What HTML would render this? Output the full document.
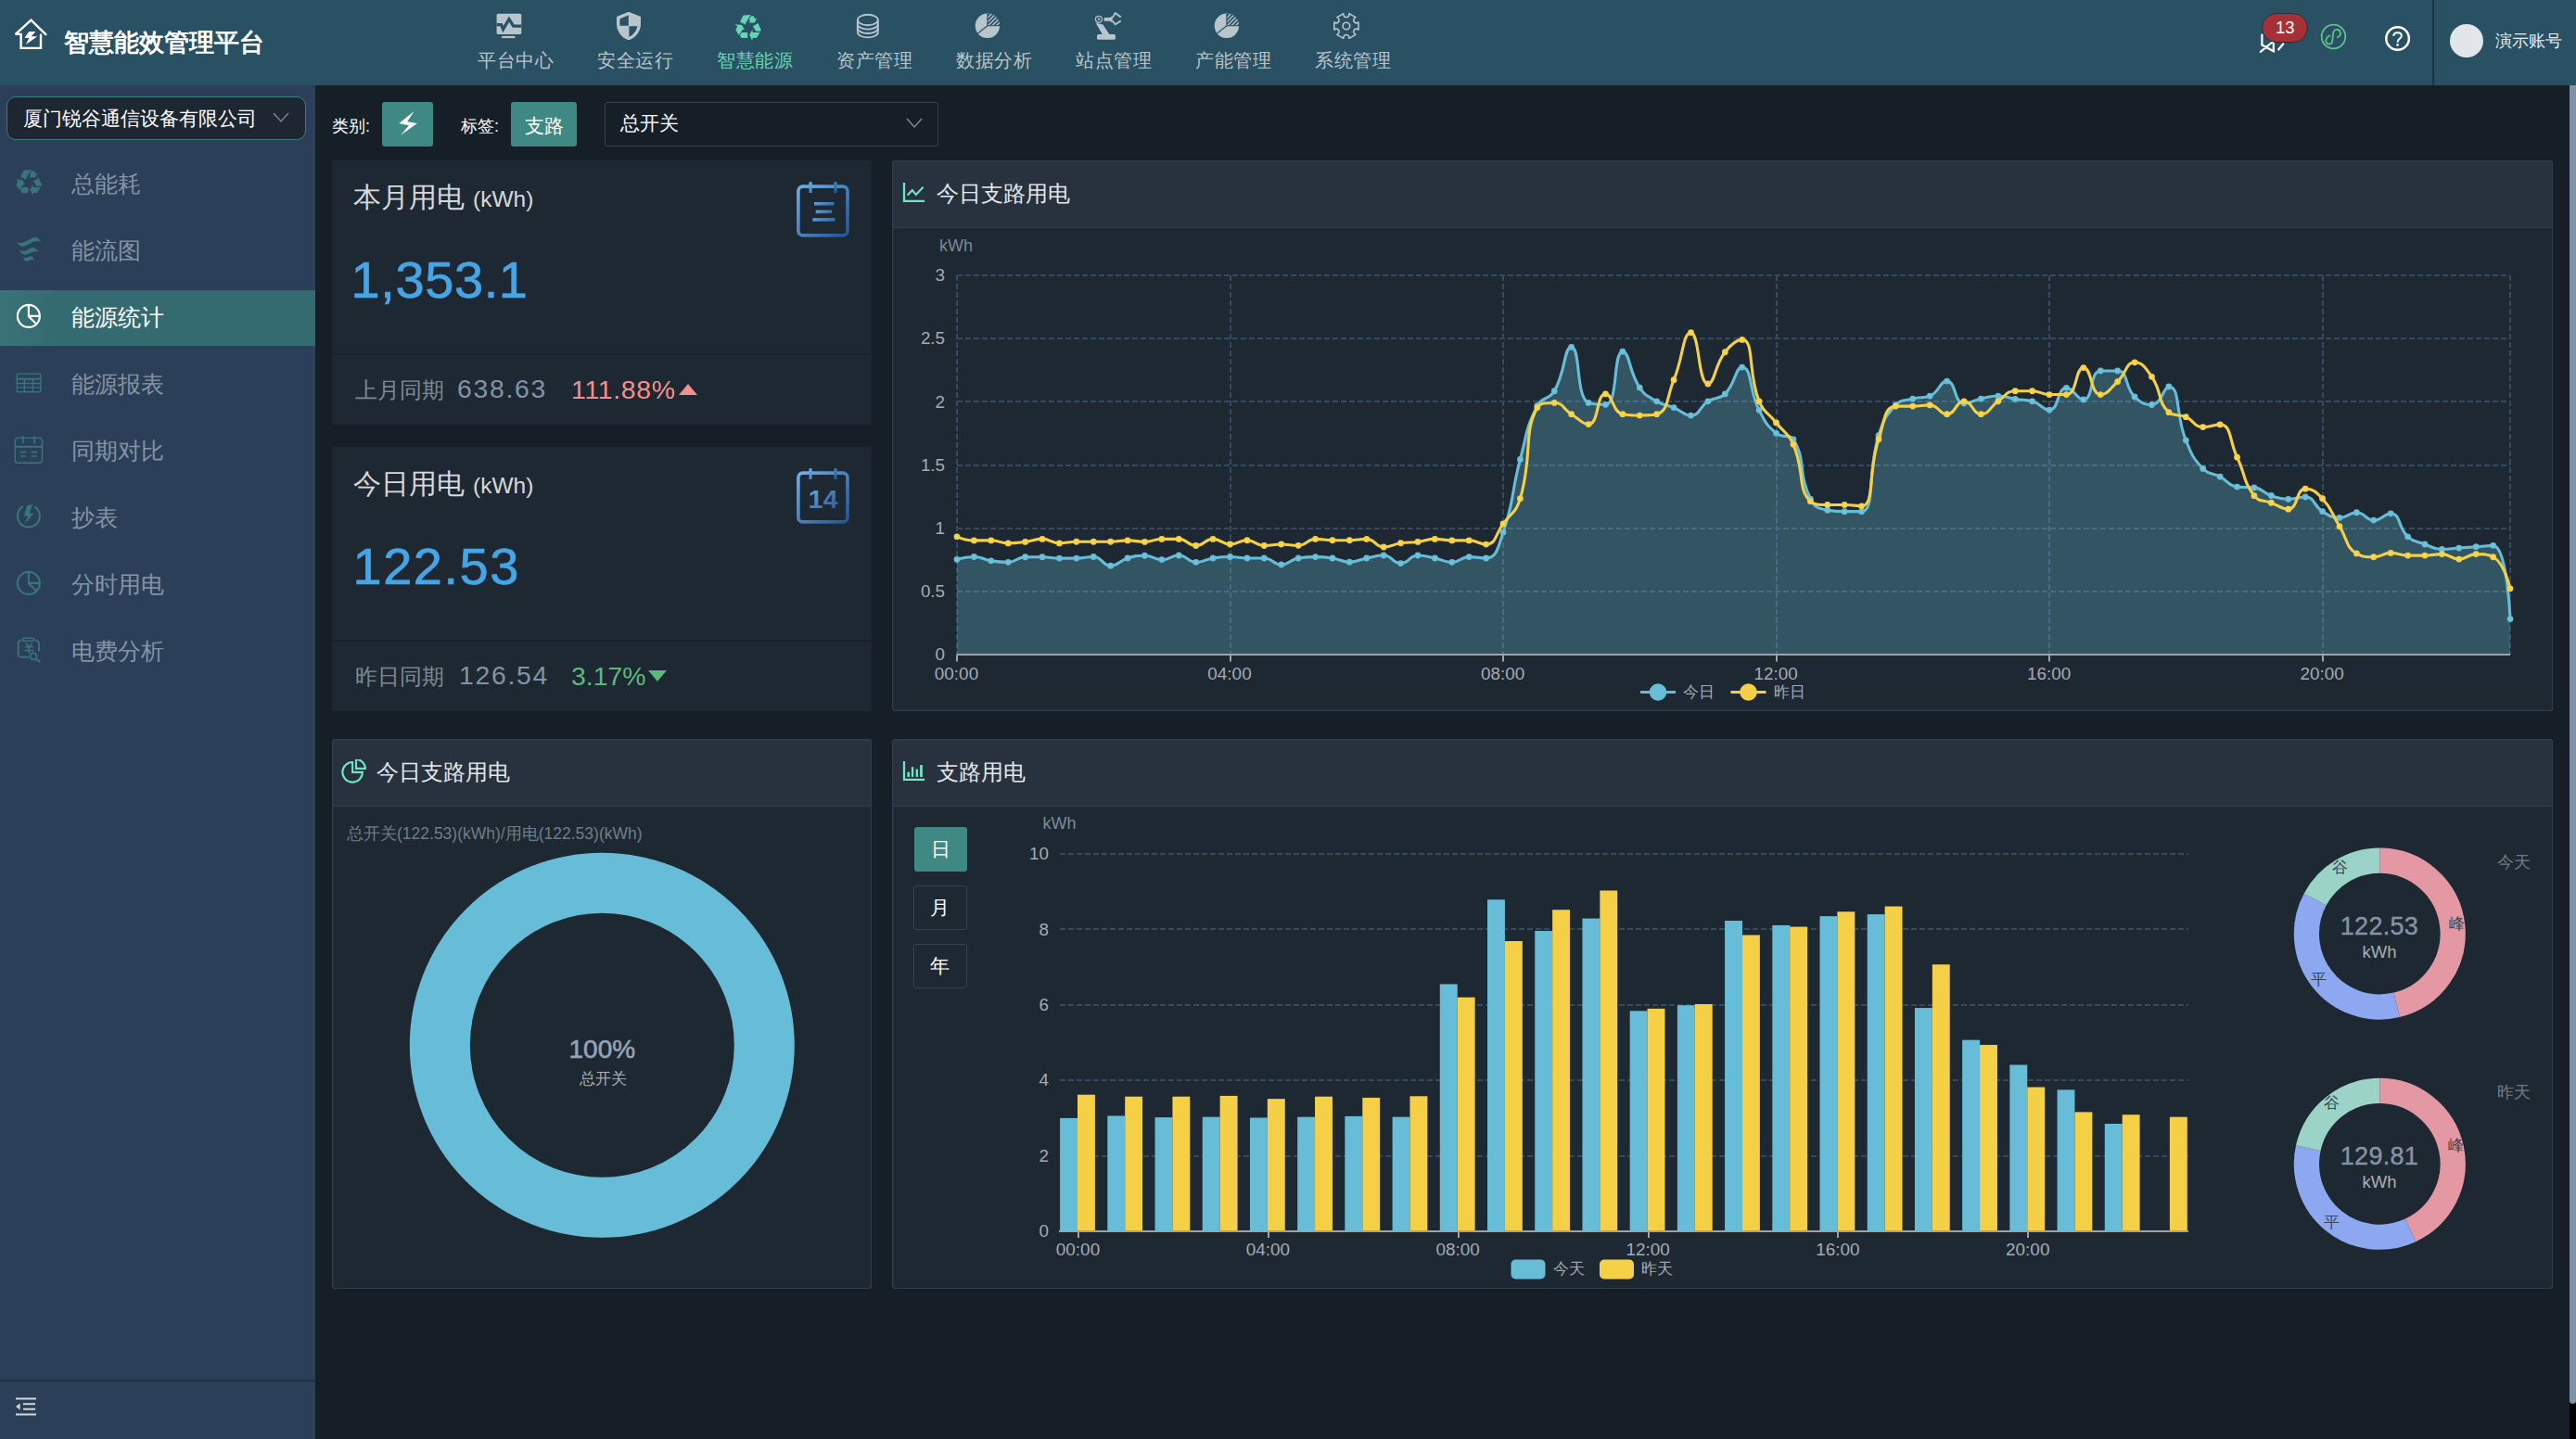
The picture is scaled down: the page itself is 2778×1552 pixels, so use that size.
<!DOCTYPE html>
<html lang="zh"><head><meta charset="utf-8"><title>智慧能效管理平台</title>
<style>
html,body{margin:0;padding:0;background:#161e28;}
body{width:2778px;height:1552px;position:relative;overflow:hidden;font-family:"Liberation Sans",sans-serif;}
body>div,body>svg{position:absolute;}
.t{white-space:nowrap;}
</style></head><body>
<div style="left:0px;top:0px;width:2778px;height:92px;background:#2a5063;"></div>
<svg style="left:14px;top:18px;" width="40" height="38" viewBox="0 0 40 38"><path d="M35.4,19.2 L19.5,3.7 L2.75,18.85 L8.6,18.85 L8.6,33.9 L30,33.9 L30,19.8" fill="none" stroke="#fff" stroke-width="2.4" stroke-linecap="round" stroke-linejoin="miter" stroke-miterlimit="2.4"/><path d="M17.35,16.1 L24.35,16.1 L19.7,21.2 L26.3,21.2 L14,29.9 L17.35,23.1 L12.5,22.7 Z" fill="#fff" /></svg>
<div class="t" style="left:69px;top:26.5px;font-size:27px;line-height:38px;color:#ffffff;font-weight:700;">智慧能效管理平台</div>
<div class="t" style="left:556.3px;width:200px;margin-left:-100px;text-align:center;top:51.1px;font-size:20.4px;line-height:29px;color:#b8c5cd;font-weight:400;letter-spacing:0.6px;">平台中心</div>
<svg style="left:534px;top:13px;" width="30" height="30" viewBox="0 0 30 30"><rect x="1.6" y="1.7" width="26.7" height="22.3" rx="1.6" fill="#b8c5cd"/><rect x="7.2" y="25.9" width="14.2" height="2.2" fill="#b8c5cd"/><path d="M1.6,13.6 L6.5,13.6 L8.6,18.6 L15,7.6 L19.7,15.2 L28.3,15.2" fill="none" stroke="#2a5063" stroke-width="3.3" stroke-linejoin="miter"/></svg>
<div class="t" style="left:685.3px;width:200px;margin-left:-100px;text-align:center;top:51.1px;font-size:20.4px;line-height:29px;color:#b8c5cd;font-weight:400;letter-spacing:0.6px;">安全运行</div>
<svg style="left:663px;top:13px;" width="30" height="30" viewBox="0 0 30 30"><path fill-rule="evenodd" fill="#b8c5cd" d="M15,-0.3 L28,5 L28,13 C28,22 21,28.5 15,30.3 C9,28.5 2,22 2,13 L2,5 Z M5.4,7.5 L14.8,3.2 L14.8,14.8 L5.4,14.8 Z M15.4,15.3 L24.4,15.3 C23.5,20.5 19.5,25 15.4,26.9 Z"/></svg>
<div class="t" style="left:814.3px;width:200px;margin-left:-100px;text-align:center;top:51.1px;font-size:20.4px;line-height:29px;color:#63d6b4;font-weight:400;letter-spacing:0.6px;">智慧能源</div>
<svg style="left:792px;top:13px;" width="30" height="30" viewBox="0 0 30 30"><g transform="translate(0,0)"><path d="M6,10.4 L9.6,3.4 L17.75,3.1 L15.5,6.25 L11.5,13.6 Z" fill="#63d6b4" /><path d="M16,7.25 L17.75,4.5 L20.75,4.25 L22.5,7.5 L24.75,5.75 L21.75,11.5 L15,11.5 L16.75,10.4 Z" fill="#63d6b4" /><path d="M19.75,15.5 L25.5,11.9 L28.75,19 L28.25,20.75 L23.5,20.75 Z" fill="#63d6b4" /><path d="M16.25,24.75 L19.25,19 L19.75,21.9 L27.5,21.9 L24,27.75 L19.75,28 L19.5,31.25 Z" fill="#63d6b4" /><path d="M6,25.25 L7.75,22 L14.25,22 L14.25,28.1 L7.75,28.1 Z" fill="#63d6b4" /><path d="M0.1,13.4 L7.75,13.75 L11,19 L9,18.75 L4.75,25 L1.4,19.25 L3.25,15.25 Z" fill="#63d6b4" /></g></svg>
<div class="t" style="left:943.3px;width:200px;margin-left:-100px;text-align:center;top:51.1px;font-size:20.4px;line-height:29px;color:#b8c5cd;font-weight:400;letter-spacing:0.6px;">资产管理</div>
<svg style="left:921px;top:13px;" width="30" height="30" viewBox="0 0 30 30"><ellipse cx="14.85" cy="8.5" rx="11" ry="5.7" fill="none" stroke="#b8c5cd" stroke-width="1.9"/><path d="M3.85,8.5 L3.85,21.7 M25.85,8.5 L25.85,21.7" stroke="#b8c5cd" stroke-width="1.9" fill="none"/><path d="M3.85,12.9 A11,5.7 0 0 0 25.85,12.9" stroke="#b8c5cd" stroke-width="1.9" fill="none"/><path d="M3.85,17.3 A11,5.7 0 0 0 25.85,17.3" stroke="#b8c5cd" stroke-width="1.9" fill="none"/><path d="M3.85,21.7 A11,5.7 0 0 0 25.85,21.7" stroke="#b8c5cd" stroke-width="1.9" fill="none"/></svg>
<div class="t" style="left:1072.3px;width:200px;margin-left:-100px;text-align:center;top:51.1px;font-size:20.4px;line-height:29px;color:#b8c5cd;font-weight:400;letter-spacing:0.6px;">数据分析</div>
<svg style="left:1050px;top:13px;" width="30" height="30" viewBox="0 0 30 30"><defs><clipPath id="pq"><path d="M14.9,14.8 L14.9,1.6 A13.2,13.2 0 0 1 28.1,14.8 Z"/></clipPath></defs><circle cx="14.9" cy="14.8" r="13.2" fill="#b8c5cd"/><g clip-path="url(#pq)"><rect x="14.9" y="1.6" width="13.2" height="13.2" fill="#2a5063"/><line x1="1.9" y1="14.8" x2="19.1" y2="-2.4" stroke="#b8c5cd" stroke-width="1.4"/><line x1="6.4" y1="14.8" x2="23.6" y2="-2.4" stroke="#b8c5cd" stroke-width="1.4"/><line x1="10.9" y1="14.8" x2="28.1" y2="-2.4" stroke="#b8c5cd" stroke-width="1.4"/><line x1="15.4" y1="14.8" x2="32.6" y2="-2.4" stroke="#b8c5cd" stroke-width="1.4"/><line x1="19.9" y1="14.8" x2="37.1" y2="-2.4" stroke="#b8c5cd" stroke-width="1.4"/><line x1="24.4" y1="14.8" x2="41.6" y2="-2.4" stroke="#b8c5cd" stroke-width="1.4"/><line x1="28.9" y1="14.8" x2="46.1" y2="-2.4" stroke="#b8c5cd" stroke-width="1.4"/><line x1="33.4" y1="14.8" x2="50.6" y2="-2.4" stroke="#b8c5cd" stroke-width="1.4"/><line x1="37.9" y1="14.8" x2="55.1" y2="-2.4" stroke="#b8c5cd" stroke-width="1.4"/><line x1="42.4" y1="14.8" x2="59.6" y2="-2.4" stroke="#b8c5cd" stroke-width="1.4"/><line x1="46.9" y1="14.8" x2="64.1" y2="-2.4" stroke="#b8c5cd" stroke-width="1.4"/><line x1="51.4" y1="14.8" x2="68.6" y2="-2.4" stroke="#b8c5cd" stroke-width="1.4"/></g><path d="M14.9,1.6 L14.9,14.8 L28.1,14.8 M14.9,14.8 L4.6,23" fill="none" stroke="#2a5063" stroke-width="1.1"/></svg>
<div class="t" style="left:1201.3px;width:200px;margin-left:-100px;text-align:center;top:51.1px;font-size:20.4px;line-height:29px;color:#b8c5cd;font-weight:400;letter-spacing:0.6px;">站点管理</div>
<svg style="left:1179px;top:13px;" width="30" height="30" viewBox="0 0 30 30"><circle cx="5.9" cy="7.8" r="3.5" fill="none" stroke="#b8c5cd" stroke-width="1.3"/><circle cx="5.9" cy="7.8" r="1.2" fill="#b8c5cd"/><path d="M2.75,11.65 L10.4,13.4 L17.3,24 L10,24.5 Z" fill="#b8c5cd" /><rect x="4" y="24" width="19.9" height="5.8" rx="1.6" fill="#b8c5cd"/><path d="M11.7,5.9 L17.3,5.9 L20.7,4.4 L20.7,11.2 L17.3,9.7 L11.7,9.7 Z" fill="#b8c5cd" /><path d="M20.7,6.1 L23.7,1 L29.7,5.4 M20.7,9.5 L23.7,13.4 L29.7,9.5" fill="none" stroke="#b8c5cd" stroke-width="1.8"/></svg>
<div class="t" style="left:1330.3px;width:200px;margin-left:-100px;text-align:center;top:51.1px;font-size:20.4px;line-height:29px;color:#b8c5cd;font-weight:400;letter-spacing:0.6px;">产能管理</div>
<svg style="left:1308px;top:13px;" width="30" height="30" viewBox="0 0 30 30"><defs><clipPath id="pq"><path d="M14.9,14.8 L14.9,1.6 A13.2,13.2 0 0 1 28.1,14.8 Z"/></clipPath></defs><circle cx="14.9" cy="14.8" r="13.2" fill="#b8c5cd"/><g clip-path="url(#pq)"><rect x="14.9" y="1.6" width="13.2" height="13.2" fill="#2a5063"/><line x1="1.9" y1="14.8" x2="19.1" y2="-2.4" stroke="#b8c5cd" stroke-width="1.4"/><line x1="6.4" y1="14.8" x2="23.6" y2="-2.4" stroke="#b8c5cd" stroke-width="1.4"/><line x1="10.9" y1="14.8" x2="28.1" y2="-2.4" stroke="#b8c5cd" stroke-width="1.4"/><line x1="15.4" y1="14.8" x2="32.6" y2="-2.4" stroke="#b8c5cd" stroke-width="1.4"/><line x1="19.9" y1="14.8" x2="37.1" y2="-2.4" stroke="#b8c5cd" stroke-width="1.4"/><line x1="24.4" y1="14.8" x2="41.6" y2="-2.4" stroke="#b8c5cd" stroke-width="1.4"/><line x1="28.9" y1="14.8" x2="46.1" y2="-2.4" stroke="#b8c5cd" stroke-width="1.4"/><line x1="33.4" y1="14.8" x2="50.6" y2="-2.4" stroke="#b8c5cd" stroke-width="1.4"/><line x1="37.9" y1="14.8" x2="55.1" y2="-2.4" stroke="#b8c5cd" stroke-width="1.4"/><line x1="42.4" y1="14.8" x2="59.6" y2="-2.4" stroke="#b8c5cd" stroke-width="1.4"/><line x1="46.9" y1="14.8" x2="64.1" y2="-2.4" stroke="#b8c5cd" stroke-width="1.4"/><line x1="51.4" y1="14.8" x2="68.6" y2="-2.4" stroke="#b8c5cd" stroke-width="1.4"/></g><path d="M14.9,1.6 L14.9,14.8 L28.1,14.8 M14.9,14.8 L4.6,23" fill="none" stroke="#2a5063" stroke-width="1.1"/></svg>
<div class="t" style="left:1459.3px;width:200px;margin-left:-100px;text-align:center;top:51.1px;font-size:20.4px;line-height:29px;color:#b8c5cd;font-weight:400;letter-spacing:0.6px;">系统管理</div>
<svg style="left:1437px;top:13px;" width="30" height="30" viewBox="0 0 30 30"><path d="M28.00,10.99 L28.00,19.01 C23.50,16.41 20.42,21.74 24.92,24.34 L17.98,28.35 C17.98,23.15 11.82,23.15 11.82,28.35 L4.88,24.34 C9.38,21.74 6.30,16.41 1.80,19.01 L1.80,10.99 C6.30,13.59 9.38,8.26 4.88,5.66 L11.82,1.65 C11.82,6.85 17.98,6.85 17.98,1.65 L24.92,5.66 C20.42,8.26 23.50,13.59 28.00,10.99Z" fill="none" stroke="#b8c5cd" stroke-width="1.6" stroke-linejoin="round"/><circle cx="14.9" cy="15" r="3.8" fill="none" stroke="#b8c5cd" stroke-width="1.6"/></svg>
<svg style="left:2436px;top:36px;" width="30" height="24" viewBox="0 0 30 24"><path d="M3.4,1.6 L3.4,12.5 L16.2,19.5 M1.8,19.9 L15,9 M15.8,10.9 L15.8,19.5 M21.2,17.5 L26.3,11.3" fill="none" stroke="#fff" stroke-width="2.2" stroke-linecap="round"/></svg>
<div style="left:2439.4px;top:13.9px;width:49.3px;height:31.9px;background:#a43137;border:1.6px solid #25303c;border-radius:17px;box-sizing:border-box;"></div>
<div class="t" style="left:2464.3px;width:200px;margin-left:-100px;text-align:center;top:16.8px;font-size:18.5px;line-height:26px;color:#ffffff;font-weight:400;">13</div>
<svg style="left:2501px;top:24px;" width="31" height="31" viewBox="0 0 31 31"><circle cx="15.5" cy="15.5" r="12.8" fill="none" stroke="#5fc18d" stroke-width="1.8"/><path d="M19.9,16.3 Q23.8,14 23,11.2 Q22,7.6 19.2,7.8 Q15.6,8.3 15,12.1 L14.2,20.5 Q13.8,23.6 10.6,23.6 Q7.2,23.2 7.3,19.6 Q7.8,16.2 11.3,14.5" fill="none" stroke="#5fc18d" stroke-width="1.8" stroke-linecap="round"/></svg>
<svg style="left:2570px;top:26px;" width="31" height="31" viewBox="0 0 31 31"><circle cx="15.6" cy="15.5" r="12.3" fill="none" stroke="#fff" stroke-width="2.5"/><path d="M11.3,12.9 Q11.3,9.2 15.5,9.2 Q19.8,9.2 19.8,12.4 Q19.8,14.6 17.6,15.9 Q15.6,17.2 15.6,19.8" fill="none" stroke="#fff" stroke-width="1.9"/><circle cx="15.6" cy="22.4" r="1.3" fill="#fff"/></svg>
<div style="left:2623px;top:0px;width:2px;height:92px;background:#1d3442;"></div>
<div style="left:2642px;top:26px;width:36px;height:36px;background:#e2e6ea;border-radius:50%;"></div>
<div class="t" style="left:2691px;top:31.5px;font-size:17.6px;line-height:25px;color:#e8edf0;font-weight:400;">演示账号</div>
<div style="left:0px;top:92px;width:340px;height:1460px;background:#2b4058;"></div>
<div style="left:340px;top:92px;width:2438px;height:1460px;background:#161e28;"></div>
<div style="left:7px;top:104px;width:323px;height:47px;background:#1e2631;border:1.5px solid #3a7d7b;border-radius:10px;box-sizing:border-box;"></div>
<div class="t" style="left:25px;top:112.5px;font-size:21.15px;line-height:30px;color:#ffffff;font-weight:400;">厦门锐谷通信设备有限公司</div>
<svg style="left:293px;top:120px;" width="20" height="14" viewBox="0 0 20 14"><path d="M2,2 L10,11 L18,2" fill="none" stroke="#76869a" stroke-width="1.4"/></svg>
<div class="t" style="left:77px;top:181px;font-size:24.8px;line-height:35px;color:#8494a5;font-weight:400;">总能耗</div>
<svg style="left:14px;top:182px;" width="34" height="34" viewBox="0 0 34 34"><g transform="translate(2.1,-1.95)"><path d="M6,10.4 L9.6,3.4 L17.75,3.1 L15.5,6.25 L11.5,13.6 Z" fill="#37757a" /><path d="M16,7.25 L17.75,4.5 L20.75,4.25 L22.5,7.5 L24.75,5.75 L21.75,11.5 L15,11.5 L16.75,10.4 Z" fill="#37757a" /><path d="M19.75,15.5 L25.5,11.9 L28.75,19 L28.25,20.75 L23.5,20.75 Z" fill="#37757a" /><path d="M16.25,24.75 L19.25,19 L19.75,21.9 L27.5,21.9 L24,27.75 L19.75,28 L19.5,31.25 Z" fill="#37757a" /><path d="M6,25.25 L7.75,22 L14.25,22 L14.25,28.1 L7.75,28.1 Z" fill="#37757a" /><path d="M0.1,13.4 L7.75,13.75 L11,19 L9,18.75 L4.75,25 L1.4,19.25 L3.25,15.25 Z" fill="#37757a" /></g></svg>
<div class="t" style="left:77px;top:253px;font-size:24.8px;line-height:35px;color:#8494a5;font-weight:400;">能流图</div>
<svg style="left:14px;top:254px;" width="34" height="34" viewBox="0 0 34 34"><path fill="#37757a" d="M3.8,6.4 C6.5,8.5 10.7,8.5 15.7,5.6 C19.8,3.1 23.2,1.6 24.8,1.8 C27.3,2.25 29,4.75 29.8,7 C27.3,5.6 24.8,6 22.3,6.8 C17.3,8.9 13.6,11.8 10.25,11.8 C7.3,11.8 5.25,9.3 3.8,6.4 Z"/><path fill="#37757a" d="M6.9,15.4 C9.4,17.25 12.3,17.25 15.7,15.6 C18.2,14.1 20.25,12.9 21.9,13 C24.4,13.3 26.1,15.6 27.1,17.9 C24.8,16.8 22.75,17 20.7,17.9 C17.3,19.3 14.8,20.6 12.3,20.5 C9.8,20.4 8.2,18.1 6.9,15.4 Z"/><path fill="#37757a" d="M10.9,23.1 C12.75,24.75 14.8,24.5 16.5,23.5 C17.75,22.7 18.6,22.2 19.4,22.3 C21.1,22.7 22.3,24.75 23,26.75 C21.5,26 20.25,25.8 18.6,26.6 C16.9,27.5 15.7,28 14.4,27.9 C12.3,27.7 11.5,25.6 10.9,23.1 Z"/></svg>
<div style="left:0px;top:313px;width:340px;height:60px;background:linear-gradient(90deg,#3a7478 0%,#346b70 18%,#346b70 100%);"></div>
<div class="t" style="left:77px;top:325px;font-size:24.8px;line-height:35px;color:#ffffff;font-weight:400;">能源统计</div>
<svg style="left:14px;top:326px;" width="34" height="34" viewBox="0 0 34 34"><circle cx="16.9" cy="14.9" r="12" fill="none" stroke="#ffffff" stroke-width="2.1"/><path d="M16.9,2.9 L16.9,14.9 L28.9,14.9 M16.9,15.2 L25.3,23.5" fill="none" stroke="#ffffff" stroke-width="2.1"/></svg>
<div class="t" style="left:77px;top:397px;font-size:24.8px;line-height:35px;color:#8494a5;font-weight:400;">能源报表</div>
<svg style="left:14px;top:398px;" width="34" height="34" viewBox="0 0 34 34"><rect x="4.2" y="5.1" width="25.6" height="19.6" rx="1.8" fill="none" stroke="#37757a" stroke-width="1.4"/><path d="M4.2,10.75 L29.8,10.75" stroke="#37757a" stroke-width="1.9"/><path d="M4.2,15.5 L29.8,15.5 M4.2,19.9 L29.8,19.9 M12.3,10.75 L12.3,24.7 M21.5,10.75 L21.5,24.7" stroke="#37757a" stroke-width="1.4" fill="none"/></svg>
<div class="t" style="left:77px;top:469px;font-size:24.8px;line-height:35px;color:#8494a5;font-weight:400;">同期对比</div>
<svg style="left:14px;top:470px;" width="34" height="34" viewBox="0 0 34 34"><rect x="2.3" y="2.4" width="29.2" height="26.9" rx="3.2" fill="none" stroke="#37757a" stroke-width="1.4"/><path d="M2.3,11.8 L31.5,11.8" stroke="#37757a" stroke-width="1.9"/><path d="M10.9,0.3 L10.9,8.25 M23.2,0.3 L23.2,8.25" stroke="#37757a" stroke-width="1.7"/><path d="M8,17.6 L13.8,17.6 M20,17.6 L26.1,17.6 M8,22 L13.8,22 M20,22 L26.1,22" stroke="#37757a" stroke-width="1.6"/></svg>
<div class="t" style="left:77px;top:541px;font-size:24.8px;line-height:35px;color:#8494a5;font-weight:400;">抄表</div>
<svg style="left:14px;top:542px;" width="34" height="34" viewBox="0 0 34 34"><path d="M23.26,4.32 A12,12 0 1 1 10.72,4.21" fill="none" stroke="#37757a" stroke-width="2.1"/><path d="M15.25,3 L21.1,2 L17.75,12 L22.75,11.2 L12.95,23 L16.1,14.3 L11.9,14.5 Z" fill="#37757a" /></svg>
<div class="t" style="left:77px;top:613px;font-size:24.8px;line-height:35px;color:#8494a5;font-weight:400;">分时用电</div>
<svg style="left:14px;top:614px;" width="34" height="34" viewBox="0 0 34 34"><circle cx="16.9" cy="14.9" r="12" fill="none" stroke="#37757a" stroke-width="2.1"/><path d="M16.9,2.9 L16.9,14.9 L28.9,14.9 M16.9,15.2 L25.3,23.5" fill="none" stroke="#37757a" stroke-width="2.1"/></svg>
<div class="t" style="left:77px;top:685px;font-size:24.8px;line-height:35px;color:#8494a5;font-weight:400;">电费分析</div>
<svg style="left:14px;top:686px;" width="34" height="34" viewBox="0 0 34 34"><path d="M8.6,4.7 A2.9,3.1 0 0 0 5.7,7.8 L5.7,19.9 A2.9,2.9 0 0 0 8.6,22.8 L17.3,22.8 M24.4,4.7 A3.6,3.1 0 0 1 28,7.8 L28,16.2" fill="none" stroke="#37757a" stroke-width="1.9"/><rect x="10.5" y="2.2" width="12.25" height="3.1" rx="0.8" fill="none" stroke="#37757a" stroke-width="1.6"/><path d="M13.6,7.4 L17.3,11.6 L20.7,7.4 M12.75,11.8 L21.9,11.8 M12.3,15.5 L22.3,15.5 M17.3,11.6 L17.3,18.7" fill="none" stroke="#37757a" stroke-width="1.5"/><circle cx="22.1" cy="21.8" r="3.5" fill="#2b4058" stroke="#37757a" stroke-width="1.8"/><path d="M25.1,24.9 L28.6,27.4" stroke="#37757a" stroke-width="2.1" stroke-linecap="round"/></svg>
<div style="left:0px;top:1488px;width:340px;height:1.5px;background:#1f2e40;"></div>
<svg style="left:16px;top:1505px;" width="24" height="24" viewBox="0 0 24 24"><path d="M1,3.5 L23,3.5 M9,9.2 L22,9.2 M9,14.8 L22,14.8 M1,20.6 L23,20.6" stroke="#d3d8dd" stroke-width="2" fill="none"/><path d="M1,12 L5.6,8.6 L5.6,15.4 Z" fill="#d3d8dd"/></svg>
<div style="left:2771px;top:1505px;width:7px;height:47px;background:#000;"></div>
<div style="left:2771px;top:92px;width:7px;height:1421.5px;background:#7f92a6;border-radius:0 0 3.5px 3.5px;"></div>
<div class="t" style="left:358px;top:124px;font-size:18px;line-height:25px;color:#ffffff;font-weight:400;">类别:</div>
<div style="left:412px;top:110px;width:55px;height:48px;background:#3f8884;border-radius:3px;"></div>
<svg style="left:426px;top:119px;" width="28" height="30" viewBox="0 0 28 30"><path d="M20.6,1.05 L4.3,14.1 L15,16.2 L6.15,26.7 L23.9,14.1 L13.1,12.2 Z" fill="#ffffff"/></svg>
<div class="t" style="left:497px;top:124px;font-size:18px;line-height:25px;color:#ffffff;font-weight:400;">标签:</div>
<div style="left:551px;top:110px;width:71px;height:48px;background:#3f8884;border-radius:3px;"></div>
<div class="t" style="left:586.5px;width:200px;margin-left:-100px;text-align:center;top:121px;font-size:20.6px;line-height:29px;color:#ffffff;font-weight:400;">支路</div>
<div style="left:652px;top:110px;width:360px;height:48px;border:1.5px solid #36424f;border-radius:3px;box-sizing:border-box;"></div>
<div class="t" style="left:669px;top:118.3px;font-size:20.6px;line-height:29px;color:#ffffff;font-weight:400;">总开关</div>
<svg style="left:976px;top:126px;" width="20" height="14" viewBox="0 0 20 14"><path d="M2,2 L10,11 L18,2" fill="none" stroke="#7f8c99" stroke-width="1.4"/></svg>
<div style="left:358px;top:173px;width:582px;height:285px;background:#1e2832;"></div>
<div style="left:358px;top:381px;width:582px;height:1.5px;background:#19212b;"></div>
<div class="t" style="left:381px;top:190.5px;line-height:44px;color:#d6d9dc;font-size:29.5px;">本月用电<span style="font-size:24.5px;margin-left:9px;">(kWh)</span></div>
<div class="t" style="left:378.5px;top:267px;font-size:56px;line-height:70px;color:#45a5e6;font-weight:400;letter-spacing:0.6px;-webkit-text-stroke:0.7px #45a5e6;">1,353.1</div>
<div class="t" style="left:383px;top:405px;font-size:23.5px;line-height:33px;color:#7b8995;font-weight:400;">上月同期</div>
<div class="t" style="left:493px;top:399.3px;font-size:28.4px;line-height:40px;color:#8493a4;font-weight:400;letter-spacing:1.7px;">638.63</div>
<div class="t" style="left:616px;top:399.5px;font-size:28.4px;line-height:40px;color:#f0918f;font-weight:400;letter-spacing:0.7px;">111.88%</div>
<svg style="left:732px;top:414px;" width="20" height="12" viewBox="0 0 20 12"><path d="M0,12 L10,0 L20,12 Z" fill="#f0918f"/></svg>
<svg style="left:857px;top:194px;" width="62" height="64" viewBox="0 0 62 64"><defs><linearGradient id="g1" x1="0" y1="0" x2="1" y2="1"><stop offset="0" stop-color="#6faee6"/><stop offset="1" stop-color="#245596"/></linearGradient></defs><rect x="3.9" y="7.1" width="53.1" height="52.8" rx="5" fill="none" stroke="url(#g1)" stroke-width="3.6"/><path d="M17.1,2.3 L17.1,13.9 M44.05,2.3 L44.05,13.9" stroke="url(#g1)" stroke-width="3.2" fill="none"/><rect x="21" y="24.1" width="21.4" height="3.6" fill="url(#g1)"/><rect x="22.7" y="32.7" width="17.5" height="3.6" fill="url(#g1)"/><rect x="19.3" y="41.3" width="24.2" height="3.6" fill="url(#g1)"/></svg>
<div style="left:358px;top:482px;width:582px;height:285px;background:#1e2832;"></div>
<div style="left:358px;top:690px;width:582px;height:1.5px;background:#19212b;"></div>
<div class="t" style="left:381px;top:499.5px;line-height:44px;color:#d6d9dc;font-size:29.5px;">今日用电<span style="font-size:24.5px;margin-left:9px;">(kWh)</span></div>
<div class="t" style="left:380.5px;top:576px;font-size:56px;line-height:70px;color:#45a5e6;font-weight:400;letter-spacing:1.5px;-webkit-text-stroke:0.7px #45a5e6;">122.53</div>
<div class="t" style="left:383px;top:714px;font-size:23.5px;line-height:33px;color:#7b8995;font-weight:400;">昨日同期</div>
<div class="t" style="left:495px;top:708.3px;font-size:28.4px;line-height:40px;color:#8493a4;font-weight:400;letter-spacing:1.7px;">126.54</div>
<div class="t" style="left:616px;top:708.5px;font-size:28.4px;line-height:40px;color:#5cb87b;font-weight:400;letter-spacing:0px;">3.17%</div>
<svg style="left:698.5px;top:722.5px;" width="20" height="12" viewBox="0 0 20 12"><path d="M0,0 L20,0 L10,12 Z" fill="#5cb87b"/></svg>
<svg style="left:857px;top:503px;" width="62" height="64" viewBox="0 0 62 64"><defs><linearGradient id="g2" x1="0" y1="0" x2="1" y2="1"><stop offset="0" stop-color="#6faee6"/><stop offset="1" stop-color="#245596"/></linearGradient></defs><rect x="3.9" y="7.1" width="53.1" height="52.8" rx="5" fill="none" stroke="url(#g2)" stroke-width="3.6"/><path d="M17.1,2.3 L17.1,13.9 M44.05,2.3 L44.05,13.9" stroke="url(#g2)" stroke-width="3.2" fill="none"/><text x="30.7" y="44.8" text-anchor="middle" font-family="Liberation Sans, sans-serif" font-weight="700" font-size="28.5" fill="url(#g2)">14</text></svg>
<div style="left:961.8px;top:173px;width:1791.4px;height:594.2px;background:#1e2832;border-radius:3.5px;"></div>
<div style="left:961.8px;top:173px;width:1791.4px;height:72.4px;background:#28323f;border-radius:3.5px 3.5px 0 0;"></div>
<svg style="left:961.8px;top:173px;" width="1791.4" height="594.2" viewBox="0 0 1791.4 594.2"><path d="M0,72.4 L1791.4,72.4" stroke="#2f3d4b" stroke-width="1.4"/><rect x="0.7" y="0.7" width="1790" height="592.8" rx="3" fill="none" stroke="#2e3c4b" stroke-width="1.4"/></svg>
<svg style="left:972px;top:195px;" width="28" height="28" viewBox="0 0 28 28"><path d="M3,2 L3,21.9 L25,21.9" fill="none" stroke="#6de6c3" stroke-width="2.25"/><path d="M6.6,15.4 L11.8,10.15 L15.8,15 L23.6,6.85" fill="none" stroke="#6de6c3" stroke-width="2.1"/></svg>
<div class="t" style="left:1010px;top:192px;font-size:24px;line-height:34px;color:#e4e7ea;font-weight:400;">今日支路用电</div>
<div style="left:357.8px;top:796.9px;width:582.4px;height:593.3px;background:#1e2832;border-radius:3.5px;"></div>
<div style="left:357.8px;top:796.9px;width:582.4px;height:72.4px;background:#28323f;border-radius:3.5px 3.5px 0 0;"></div>
<svg style="left:357.8px;top:796.9px;" width="582.4" height="593.3" viewBox="0 0 582.4 593.3"><path d="M0,72.4 L582.4,72.4" stroke="#2f3d4b" stroke-width="1.4"/><rect x="0.7" y="0.7" width="581" height="591.9" rx="3" fill="none" stroke="#2e3c4b" stroke-width="1.4"/></svg>
<svg style="left:368px;top:819px;" width="28" height="28" viewBox="0 0 28 28"><path d="M12.15,3.05 A10.8,10.8 0 1 0 22.95,13.85 L12.15,13.85 Z" fill="none" stroke="#6de6c3" stroke-width="2.1"/><path d="M16,9.9 L16,0 A9.9,9.9 0 0 1 25.9,9.9 Z" fill="none" stroke="#6de6c3" stroke-width="2.1"/></svg>
<div class="t" style="left:406px;top:816px;font-size:24px;line-height:34px;color:#e4e7ea;font-weight:400;">今日支路用电</div>
<div style="left:961.8px;top:796.9px;width:1791.4px;height:593.3px;background:#1e2832;border-radius:3.5px;"></div>
<div style="left:961.8px;top:796.9px;width:1791.4px;height:72.4px;background:#28323f;border-radius:3.5px 3.5px 0 0;"></div>
<svg style="left:961.8px;top:796.9px;" width="1791.4" height="593.3" viewBox="0 0 1791.4 593.3"><path d="M0,72.4 L1791.4,72.4" stroke="#2f3d4b" stroke-width="1.4"/><rect x="0.7" y="0.7" width="1790" height="591.9" rx="3" fill="none" stroke="#2e3c4b" stroke-width="1.4"/></svg>
<svg style="left:972px;top:819px;" width="28" height="28" viewBox="0 0 28 28"><path d="M3,2 L3,21.9 L25,21.9" fill="none" stroke="#6de6c3" stroke-width="2.25"/><rect x="6.4" y="13.7" width="2.6" height="5.2" fill="#6de6c3"/><rect x="10.9" y="8.1" width="2.3" height="10.8" fill="#6de6c3"/><rect x="15.7" y="10.5" width="2.3" height="8.4" fill="#6de6c3"/><rect x="20.1" y="6" width="2.75" height="12.9" fill="#6de6c3"/></svg>
<div class="t" style="left:1010px;top:816px;font-size:24px;line-height:34px;color:#e4e7ea;font-weight:400;">支路用电</div>
<svg style="left:0px;top:0px;pointer-events:none;" width="2778" height="1552" viewBox="0 0 2778 1552"><line x1="1032" y1="638" x2="2707.04" y2="638" stroke="#35495f" stroke-width="2" stroke-dasharray="6,3"/><line x1="1032" y1="570" x2="2707.04" y2="570" stroke="#35495f" stroke-width="2" stroke-dasharray="6,3"/><line x1="1032" y1="502" x2="2707.04" y2="502" stroke="#35495f" stroke-width="2" stroke-dasharray="6,3"/><line x1="1032" y1="433" x2="2707.04" y2="433" stroke="#35495f" stroke-width="2" stroke-dasharray="6,3"/><line x1="1032" y1="365" x2="2707.04" y2="365" stroke="#35495f" stroke-width="2" stroke-dasharray="6,3"/><line x1="1032" y1="297" x2="2707.04" y2="297" stroke="#35495f" stroke-width="2" stroke-dasharray="6,3"/><line x1="1032" y1="297.01" x2="1032" y2="706" stroke="#35495f" stroke-width="2" stroke-dasharray="6,3"/><line x1="1327" y1="297.01" x2="1327" y2="706" stroke="#35495f" stroke-width="2" stroke-dasharray="6,3"/><line x1="1621" y1="297.01" x2="1621" y2="706" stroke="#35495f" stroke-width="2" stroke-dasharray="6,3"/><line x1="1916" y1="297.01" x2="1916" y2="706" stroke="#35495f" stroke-width="2" stroke-dasharray="6,3"/><line x1="2210" y1="297.01" x2="2210" y2="706" stroke="#35495f" stroke-width="2" stroke-dasharray="6,3"/><line x1="2505" y1="297.01" x2="2505" y2="706" stroke="#35495f" stroke-width="2" stroke-dasharray="6,3"/><line x1="2707.04" y1="297.01" x2="2707.04" y2="706" stroke="#35495f" stroke-width="2" stroke-dasharray="6,3"/><path d="M1032.00,603.34C1032.00,603.34 1041.27,600.48 1050.41,600.48C1059.68,600.48 1059.50,603.36 1068.81,604.84C1077.91,606.29 1078.21,606.34 1087.22,606.34C1096.61,606.34 1096.22,600.75 1105.63,600.75C1114.63,600.75 1114.84,600.75 1124.04,600.75C1133.25,600.75 1133.23,602.12 1142.44,602.12C1151.63,602.12 1151.66,602.12 1160.85,602.12C1170.07,602.12 1170.60,600.48 1179.26,600.48C1189.00,600.48 1188.31,610.16 1197.66,610.16C1206.72,610.16 1206.50,604.81 1216.07,601.98C1224.91,599.36 1225.35,599.25 1234.48,599.25C1243.76,599.25 1243.70,603.62 1252.88,603.62C1262.10,603.62 1262.29,598.98 1271.29,598.98C1280.69,598.98 1280.28,606.34 1289.70,606.34C1298.69,606.34 1298.79,603.46 1308.11,601.98C1317.20,600.53 1317.31,600.48 1326.51,600.48C1335.72,600.48 1335.70,601.98 1344.92,601.98C1354.11,601.98 1354.43,601.98 1363.33,601.98C1372.84,601.98 1372.53,608.93 1381.73,608.93C1390.94,608.93 1390.64,603.43 1400.14,601.98C1409.05,600.62 1409.34,600.62 1418.55,600.62C1427.75,600.62 1427.86,600.62 1436.95,601.98C1446.26,603.38 1446.16,606.21 1455.36,606.21C1464.56,606.21 1464.51,603.80 1473.77,601.98C1482.91,600.19 1483.36,598.98 1492.17,598.98C1501.77,598.98 1501.38,607.57 1510.58,607.57C1519.79,607.57 1519.39,598.98 1528.99,598.98C1537.80,598.98 1538.26,600.15 1547.40,601.98C1556.66,603.83 1556.69,606.34 1565.80,606.34C1575.09,606.34 1574.81,600.62 1584.21,600.62C1593.21,600.62 1596.07,601.98 1602.62,601.98C1614.48,601.98 1615.63,589.64 1621.02,574.03C1634.03,536.41 1628.94,534.41 1639.43,495.51C1647.34,466.18 1644.68,463.92 1657.84,437.57C1663.09,427.05 1670.30,431.96 1676.24,421.75C1688.71,400.34 1686.42,374.31 1694.65,374.31C1704.83,374.31 1698.84,427.95 1713.06,434.43C1717.24,436.34 1727.13,436.34 1731.47,436.34C1745.53,436.34 1739.15,379.22 1749.87,379.22C1757.56,379.22 1756.39,400.77 1768.28,418.07C1774.80,427.56 1776.64,426.92 1786.69,432.79C1795.05,437.69 1796.04,435.85 1805.09,439.61C1814.44,443.49 1815.06,448.06 1823.50,448.06C1833.47,448.06 1831.89,439.10 1841.91,432.79C1850.30,427.51 1853.51,431.67 1860.32,424.89C1871.92,413.33 1871.23,396.12 1878.72,396.12C1889.64,396.12 1885.79,420.42 1897.13,442.34C1904.20,456.00 1904.24,457.63 1915.54,467.29C1922.65,473.37 1929.78,467.29 1933.94,473.83C1948.18,496.21 1938.51,509.34 1952.35,538.04C1956.92,547.51 1960.74,548.38 1970.76,550.17C1979.15,551.67 1979.95,551.67 1989.16,551.67C1998.35,551.67 2004.27,551.67 2007.57,551.67C2022.67,551.67 2013.25,509.29 2025.98,469.60C2031.66,451.89 2032.30,449.87 2044.38,436.88C2050.70,430.10 2053.35,432.58 2062.79,430.07C2071.76,427.68 2073.22,430.07 2081.20,427.07C2091.62,423.15 2091.38,411.12 2099.61,411.12C2109.79,411.12 2106.74,434.98 2118.01,434.98C2125.14,434.98 2127.12,432.07 2136.42,430.07C2145.53,428.11 2145.64,427.07 2154.83,427.07C2164.05,427.07 2163.99,429.04 2173.23,430.48C2182.40,431.90 2182.92,430.48 2191.64,432.79C2201.33,435.37 2202.56,442.07 2210.05,442.07C2220.96,442.07 2217.90,418.34 2228.45,418.34C2236.31,418.34 2239.83,431.02 2246.86,431.02C2258.23,431.02 2253.08,399.94 2265.27,399.94C2271.48,399.94 2277.16,399.94 2283.68,399.94C2295.57,399.94 2290.60,416.63 2302.08,428.02C2309.01,434.90 2312.57,436.48 2320.49,436.48C2330.98,436.48 2333.26,416.98 2338.90,416.98C2351.66,416.98 2345.73,446.96 2357.30,474.78C2364.13,491.19 2363.97,492.94 2375.71,505.46C2382.38,512.57 2385.17,509.27 2394.12,514.05C2403.58,519.09 2402.62,524.14 2412.53,525.09C2421.03,525.91 2422.18,525.09 2430.93,525.91C2440.58,526.81 2439.78,531.28 2449.34,534.50C2458.19,537.48 2458.48,538.31 2467.75,538.31C2476.89,538.31 2478.14,536.00 2486.15,536.00C2496.55,536.00 2494.42,545.38 2504.56,551.54C2512.82,556.56 2513.67,558.35 2522.97,558.35C2532.08,558.35 2532.39,552.77 2541.37,552.77C2550.80,552.77 2550.48,561.08 2559.78,561.08C2568.89,561.08 2571.02,553.86 2578.19,553.86C2589.43,553.86 2585.44,568.76 2596.60,578.80C2603.84,585.33 2605.58,583.49 2615.00,586.98C2623.98,590.31 2624.02,592.44 2633.41,592.44C2642.43,592.44 2642.61,591.76 2651.82,591.07C2661.02,590.39 2661.02,590.39 2670.22,589.71C2679.43,589.03 2685.22,588.35 2688.63,588.35C2703.63,588.35 2707.04,667.55 2707.04,667.55L2707.04,706.00L1032.00,706.00Z" fill="#67bdd8" fill-opacity="0.3"/><line x1="1032" y1="706" x2="2707.04" y2="706" stroke="#9fa3a8" stroke-width="2"/><line x1="1032" y1="706" x2="1032" y2="713.5" stroke="#9fa3a8" stroke-width="2"/><line x1="1327" y1="706" x2="1327" y2="713.5" stroke="#9fa3a8" stroke-width="2"/><line x1="1621" y1="706" x2="1621" y2="713.5" stroke="#9fa3a8" stroke-width="2"/><line x1="1916" y1="706" x2="1916" y2="713.5" stroke="#9fa3a8" stroke-width="2"/><line x1="2210" y1="706" x2="2210" y2="713.5" stroke="#9fa3a8" stroke-width="2"/><line x1="2505" y1="706" x2="2505" y2="713.5" stroke="#9fa3a8" stroke-width="2"/><path d="M1032.00,603.34C1032.00,603.34 1041.27,600.48 1050.41,600.48C1059.68,600.48 1059.50,603.36 1068.81,604.84C1077.91,606.29 1078.21,606.34 1087.22,606.34C1096.61,606.34 1096.22,600.75 1105.63,600.75C1114.63,600.75 1114.84,600.75 1124.04,600.75C1133.25,600.75 1133.23,602.12 1142.44,602.12C1151.63,602.12 1151.66,602.12 1160.85,602.12C1170.07,602.12 1170.60,600.48 1179.26,600.48C1189.00,600.48 1188.31,610.16 1197.66,610.16C1206.72,610.16 1206.50,604.81 1216.07,601.98C1224.91,599.36 1225.35,599.25 1234.48,599.25C1243.76,599.25 1243.70,603.62 1252.88,603.62C1262.10,603.62 1262.29,598.98 1271.29,598.98C1280.69,598.98 1280.28,606.34 1289.70,606.34C1298.69,606.34 1298.79,603.46 1308.11,601.98C1317.20,600.53 1317.31,600.48 1326.51,600.48C1335.72,600.48 1335.70,601.98 1344.92,601.98C1354.11,601.98 1354.43,601.98 1363.33,601.98C1372.84,601.98 1372.53,608.93 1381.73,608.93C1390.94,608.93 1390.64,603.43 1400.14,601.98C1409.05,600.62 1409.34,600.62 1418.55,600.62C1427.75,600.62 1427.86,600.62 1436.95,601.98C1446.26,603.38 1446.16,606.21 1455.36,606.21C1464.56,606.21 1464.51,603.80 1473.77,601.98C1482.91,600.19 1483.36,598.98 1492.17,598.98C1501.77,598.98 1501.38,607.57 1510.58,607.57C1519.79,607.57 1519.39,598.98 1528.99,598.98C1537.80,598.98 1538.26,600.15 1547.40,601.98C1556.66,603.83 1556.69,606.34 1565.80,606.34C1575.09,606.34 1574.81,600.62 1584.21,600.62C1593.21,600.62 1596.07,601.98 1602.62,601.98C1614.48,601.98 1615.63,589.64 1621.02,574.03C1634.03,536.41 1628.94,534.41 1639.43,495.51C1647.34,466.18 1644.68,463.92 1657.84,437.57C1663.09,427.05 1670.30,431.96 1676.24,421.75C1688.71,400.34 1686.42,374.31 1694.65,374.31C1704.83,374.31 1698.84,427.95 1713.06,434.43C1717.24,436.34 1727.13,436.34 1731.47,436.34C1745.53,436.34 1739.15,379.22 1749.87,379.22C1757.56,379.22 1756.39,400.77 1768.28,418.07C1774.80,427.56 1776.64,426.92 1786.69,432.79C1795.05,437.69 1796.04,435.85 1805.09,439.61C1814.44,443.49 1815.06,448.06 1823.50,448.06C1833.47,448.06 1831.89,439.10 1841.91,432.79C1850.30,427.51 1853.51,431.67 1860.32,424.89C1871.92,413.33 1871.23,396.12 1878.72,396.12C1889.64,396.12 1885.79,420.42 1897.13,442.34C1904.20,456.00 1904.24,457.63 1915.54,467.29C1922.65,473.37 1929.78,467.29 1933.94,473.83C1948.18,496.21 1938.51,509.34 1952.35,538.04C1956.92,547.51 1960.74,548.38 1970.76,550.17C1979.15,551.67 1979.95,551.67 1989.16,551.67C1998.35,551.67 2004.27,551.67 2007.57,551.67C2022.67,551.67 2013.25,509.29 2025.98,469.60C2031.66,451.89 2032.30,449.87 2044.38,436.88C2050.70,430.10 2053.35,432.58 2062.79,430.07C2071.76,427.68 2073.22,430.07 2081.20,427.07C2091.62,423.15 2091.38,411.12 2099.61,411.12C2109.79,411.12 2106.74,434.98 2118.01,434.98C2125.14,434.98 2127.12,432.07 2136.42,430.07C2145.53,428.11 2145.64,427.07 2154.83,427.07C2164.05,427.07 2163.99,429.04 2173.23,430.48C2182.40,431.90 2182.92,430.48 2191.64,432.79C2201.33,435.37 2202.56,442.07 2210.05,442.07C2220.96,442.07 2217.90,418.34 2228.45,418.34C2236.31,418.34 2239.83,431.02 2246.86,431.02C2258.23,431.02 2253.08,399.94 2265.27,399.94C2271.48,399.94 2277.16,399.94 2283.68,399.94C2295.57,399.94 2290.60,416.63 2302.08,428.02C2309.01,434.90 2312.57,436.48 2320.49,436.48C2330.98,436.48 2333.26,416.98 2338.90,416.98C2351.66,416.98 2345.73,446.96 2357.30,474.78C2364.13,491.19 2363.97,492.94 2375.71,505.46C2382.38,512.57 2385.17,509.27 2394.12,514.05C2403.58,519.09 2402.62,524.14 2412.53,525.09C2421.03,525.91 2422.18,525.09 2430.93,525.91C2440.58,526.81 2439.78,531.28 2449.34,534.50C2458.19,537.48 2458.48,538.31 2467.75,538.31C2476.89,538.31 2478.14,536.00 2486.15,536.00C2496.55,536.00 2494.42,545.38 2504.56,551.54C2512.82,556.56 2513.67,558.35 2522.97,558.35C2532.08,558.35 2532.39,552.77 2541.37,552.77C2550.80,552.77 2550.48,561.08 2559.78,561.08C2568.89,561.08 2571.02,553.86 2578.19,553.86C2589.43,553.86 2585.44,568.76 2596.60,578.80C2603.84,585.33 2605.58,583.49 2615.00,586.98C2623.98,590.31 2624.02,592.44 2633.41,592.44C2642.43,592.44 2642.61,591.76 2651.82,591.07C2661.02,590.39 2661.02,590.39 2670.22,589.71C2679.43,589.03 2685.22,588.35 2688.63,588.35C2703.63,588.35 2707.04,667.55 2707.04,667.55" fill="none" stroke="#67bdd8" stroke-width="3.1" stroke-linejoin="round"/><circle cx="1032.00" cy="603.34" r="2.4" fill="#6fc6df" stroke="#67bdd8" stroke-width="2"/><circle cx="1050.41" cy="600.48" r="2.4" fill="#6fc6df" stroke="#67bdd8" stroke-width="2"/><circle cx="1068.81" cy="604.84" r="2.4" fill="#6fc6df" stroke="#67bdd8" stroke-width="2"/><circle cx="1087.22" cy="606.34" r="2.4" fill="#6fc6df" stroke="#67bdd8" stroke-width="2"/><circle cx="1105.63" cy="600.75" r="2.4" fill="#6fc6df" stroke="#67bdd8" stroke-width="2"/><circle cx="1124.04" cy="600.75" r="2.4" fill="#6fc6df" stroke="#67bdd8" stroke-width="2"/><circle cx="1142.44" cy="602.12" r="2.4" fill="#6fc6df" stroke="#67bdd8" stroke-width="2"/><circle cx="1160.85" cy="602.12" r="2.4" fill="#6fc6df" stroke="#67bdd8" stroke-width="2"/><circle cx="1179.26" cy="600.48" r="2.4" fill="#6fc6df" stroke="#67bdd8" stroke-width="2"/><circle cx="1197.66" cy="610.16" r="2.4" fill="#6fc6df" stroke="#67bdd8" stroke-width="2"/><circle cx="1216.07" cy="601.98" r="2.4" fill="#6fc6df" stroke="#67bdd8" stroke-width="2"/><circle cx="1234.48" cy="599.25" r="2.4" fill="#6fc6df" stroke="#67bdd8" stroke-width="2"/><circle cx="1252.88" cy="603.62" r="2.4" fill="#6fc6df" stroke="#67bdd8" stroke-width="2"/><circle cx="1271.29" cy="598.98" r="2.4" fill="#6fc6df" stroke="#67bdd8" stroke-width="2"/><circle cx="1289.70" cy="606.34" r="2.4" fill="#6fc6df" stroke="#67bdd8" stroke-width="2"/><circle cx="1308.11" cy="601.98" r="2.4" fill="#6fc6df" stroke="#67bdd8" stroke-width="2"/><circle cx="1326.51" cy="600.48" r="2.4" fill="#6fc6df" stroke="#67bdd8" stroke-width="2"/><circle cx="1344.92" cy="601.98" r="2.4" fill="#6fc6df" stroke="#67bdd8" stroke-width="2"/><circle cx="1363.33" cy="601.98" r="2.4" fill="#6fc6df" stroke="#67bdd8" stroke-width="2"/><circle cx="1381.73" cy="608.93" r="2.4" fill="#6fc6df" stroke="#67bdd8" stroke-width="2"/><circle cx="1400.14" cy="601.98" r="2.4" fill="#6fc6df" stroke="#67bdd8" stroke-width="2"/><circle cx="1418.55" cy="600.62" r="2.4" fill="#6fc6df" stroke="#67bdd8" stroke-width="2"/><circle cx="1436.95" cy="601.98" r="2.4" fill="#6fc6df" stroke="#67bdd8" stroke-width="2"/><circle cx="1455.36" cy="606.21" r="2.4" fill="#6fc6df" stroke="#67bdd8" stroke-width="2"/><circle cx="1473.77" cy="601.98" r="2.4" fill="#6fc6df" stroke="#67bdd8" stroke-width="2"/><circle cx="1492.17" cy="598.98" r="2.4" fill="#6fc6df" stroke="#67bdd8" stroke-width="2"/><circle cx="1510.58" cy="607.57" r="2.4" fill="#6fc6df" stroke="#67bdd8" stroke-width="2"/><circle cx="1528.99" cy="598.98" r="2.4" fill="#6fc6df" stroke="#67bdd8" stroke-width="2"/><circle cx="1547.40" cy="601.98" r="2.4" fill="#6fc6df" stroke="#67bdd8" stroke-width="2"/><circle cx="1565.80" cy="606.34" r="2.4" fill="#6fc6df" stroke="#67bdd8" stroke-width="2"/><circle cx="1584.21" cy="600.62" r="2.4" fill="#6fc6df" stroke="#67bdd8" stroke-width="2"/><circle cx="1602.62" cy="601.98" r="2.4" fill="#6fc6df" stroke="#67bdd8" stroke-width="2"/><circle cx="1621.02" cy="574.03" r="2.4" fill="#6fc6df" stroke="#67bdd8" stroke-width="2"/><circle cx="1639.43" cy="495.51" r="2.4" fill="#6fc6df" stroke="#67bdd8" stroke-width="2"/><circle cx="1657.84" cy="437.57" r="2.4" fill="#6fc6df" stroke="#67bdd8" stroke-width="2"/><circle cx="1676.24" cy="421.75" r="2.4" fill="#6fc6df" stroke="#67bdd8" stroke-width="2"/><circle cx="1694.65" cy="374.31" r="2.4" fill="#6fc6df" stroke="#67bdd8" stroke-width="2"/><circle cx="1713.06" cy="434.43" r="2.4" fill="#6fc6df" stroke="#67bdd8" stroke-width="2"/><circle cx="1731.47" cy="436.34" r="2.4" fill="#6fc6df" stroke="#67bdd8" stroke-width="2"/><circle cx="1749.87" cy="379.22" r="2.4" fill="#6fc6df" stroke="#67bdd8" stroke-width="2"/><circle cx="1768.28" cy="418.07" r="2.4" fill="#6fc6df" stroke="#67bdd8" stroke-width="2"/><circle cx="1786.69" cy="432.79" r="2.4" fill="#6fc6df" stroke="#67bdd8" stroke-width="2"/><circle cx="1805.09" cy="439.61" r="2.4" fill="#6fc6df" stroke="#67bdd8" stroke-width="2"/><circle cx="1823.50" cy="448.06" r="2.4" fill="#6fc6df" stroke="#67bdd8" stroke-width="2"/><circle cx="1841.91" cy="432.79" r="2.4" fill="#6fc6df" stroke="#67bdd8" stroke-width="2"/><circle cx="1860.32" cy="424.89" r="2.4" fill="#6fc6df" stroke="#67bdd8" stroke-width="2"/><circle cx="1878.72" cy="396.12" r="2.4" fill="#6fc6df" stroke="#67bdd8" stroke-width="2"/><circle cx="1897.13" cy="442.34" r="2.4" fill="#6fc6df" stroke="#67bdd8" stroke-width="2"/><circle cx="1915.54" cy="467.29" r="2.4" fill="#6fc6df" stroke="#67bdd8" stroke-width="2"/><circle cx="1933.94" cy="473.83" r="2.4" fill="#6fc6df" stroke="#67bdd8" stroke-width="2"/><circle cx="1952.35" cy="538.04" r="2.4" fill="#6fc6df" stroke="#67bdd8" stroke-width="2"/><circle cx="1970.76" cy="550.17" r="2.4" fill="#6fc6df" stroke="#67bdd8" stroke-width="2"/><circle cx="1989.16" cy="551.67" r="2.4" fill="#6fc6df" stroke="#67bdd8" stroke-width="2"/><circle cx="2007.57" cy="551.67" r="2.4" fill="#6fc6df" stroke="#67bdd8" stroke-width="2"/><circle cx="2025.98" cy="469.60" r="2.4" fill="#6fc6df" stroke="#67bdd8" stroke-width="2"/><circle cx="2044.38" cy="436.88" r="2.4" fill="#6fc6df" stroke="#67bdd8" stroke-width="2"/><circle cx="2062.79" cy="430.07" r="2.4" fill="#6fc6df" stroke="#67bdd8" stroke-width="2"/><circle cx="2081.20" cy="427.07" r="2.4" fill="#6fc6df" stroke="#67bdd8" stroke-width="2"/><circle cx="2099.61" cy="411.12" r="2.4" fill="#6fc6df" stroke="#67bdd8" stroke-width="2"/><circle cx="2118.01" cy="434.98" r="2.4" fill="#6fc6df" stroke="#67bdd8" stroke-width="2"/><circle cx="2136.42" cy="430.07" r="2.4" fill="#6fc6df" stroke="#67bdd8" stroke-width="2"/><circle cx="2154.83" cy="427.07" r="2.4" fill="#6fc6df" stroke="#67bdd8" stroke-width="2"/><circle cx="2173.23" cy="430.48" r="2.4" fill="#6fc6df" stroke="#67bdd8" stroke-width="2"/><circle cx="2191.64" cy="432.79" r="2.4" fill="#6fc6df" stroke="#67bdd8" stroke-width="2"/><circle cx="2210.05" cy="442.07" r="2.4" fill="#6fc6df" stroke="#67bdd8" stroke-width="2"/><circle cx="2228.45" cy="418.34" r="2.4" fill="#6fc6df" stroke="#67bdd8" stroke-width="2"/><circle cx="2246.86" cy="431.02" r="2.4" fill="#6fc6df" stroke="#67bdd8" stroke-width="2"/><circle cx="2265.27" cy="399.94" r="2.4" fill="#6fc6df" stroke="#67bdd8" stroke-width="2"/><circle cx="2283.68" cy="399.94" r="2.4" fill="#6fc6df" stroke="#67bdd8" stroke-width="2"/><circle cx="2302.08" cy="428.02" r="2.4" fill="#6fc6df" stroke="#67bdd8" stroke-width="2"/><circle cx="2320.49" cy="436.48" r="2.4" fill="#6fc6df" stroke="#67bdd8" stroke-width="2"/><circle cx="2338.90" cy="416.98" r="2.4" fill="#6fc6df" stroke="#67bdd8" stroke-width="2"/><circle cx="2357.30" cy="474.78" r="2.4" fill="#6fc6df" stroke="#67bdd8" stroke-width="2"/><circle cx="2375.71" cy="505.46" r="2.4" fill="#6fc6df" stroke="#67bdd8" stroke-width="2"/><circle cx="2394.12" cy="514.05" r="2.4" fill="#6fc6df" stroke="#67bdd8" stroke-width="2"/><circle cx="2412.53" cy="525.09" r="2.4" fill="#6fc6df" stroke="#67bdd8" stroke-width="2"/><circle cx="2430.93" cy="525.91" r="2.4" fill="#6fc6df" stroke="#67bdd8" stroke-width="2"/><circle cx="2449.34" cy="534.50" r="2.4" fill="#6fc6df" stroke="#67bdd8" stroke-width="2"/><circle cx="2467.75" cy="538.31" r="2.4" fill="#6fc6df" stroke="#67bdd8" stroke-width="2"/><circle cx="2486.15" cy="536.00" r="2.4" fill="#6fc6df" stroke="#67bdd8" stroke-width="2"/><circle cx="2504.56" cy="551.54" r="2.4" fill="#6fc6df" stroke="#67bdd8" stroke-width="2"/><circle cx="2522.97" cy="558.35" r="2.4" fill="#6fc6df" stroke="#67bdd8" stroke-width="2"/><circle cx="2541.37" cy="552.77" r="2.4" fill="#6fc6df" stroke="#67bdd8" stroke-width="2"/><circle cx="2559.78" cy="561.08" r="2.4" fill="#6fc6df" stroke="#67bdd8" stroke-width="2"/><circle cx="2578.19" cy="553.86" r="2.4" fill="#6fc6df" stroke="#67bdd8" stroke-width="2"/><circle cx="2596.60" cy="578.80" r="2.4" fill="#6fc6df" stroke="#67bdd8" stroke-width="2"/><circle cx="2615.00" cy="586.98" r="2.4" fill="#6fc6df" stroke="#67bdd8" stroke-width="2"/><circle cx="2633.41" cy="592.44" r="2.4" fill="#6fc6df" stroke="#67bdd8" stroke-width="2"/><circle cx="2651.82" cy="591.07" r="2.4" fill="#6fc6df" stroke="#67bdd8" stroke-width="2"/><circle cx="2670.22" cy="589.71" r="2.4" fill="#6fc6df" stroke="#67bdd8" stroke-width="2"/><circle cx="2688.63" cy="588.35" r="2.4" fill="#6fc6df" stroke="#67bdd8" stroke-width="2"/><circle cx="2707.04" cy="667.55" r="2.4" fill="#6fc6df" stroke="#67bdd8" stroke-width="2"/><path d="M1032.00,578.80C1032.00,578.80 1041.09,582.89 1050.41,582.89C1059.50,582.89 1059.67,582.89 1068.81,582.89C1078.08,582.89 1077.97,585.89 1087.22,585.89C1096.38,585.89 1096.47,585.51 1105.63,584.39C1114.88,583.26 1114.90,581.39 1124.04,581.39C1133.31,581.39 1133.12,585.89 1142.44,585.89C1151.53,585.89 1151.63,584.26 1160.85,584.26C1170.03,584.26 1170.05,584.26 1179.26,584.26C1188.46,584.26 1188.47,584.26 1197.66,584.26C1206.88,584.26 1206.87,582.89 1216.07,582.89C1225.28,582.89 1225.32,584.39 1234.48,584.39C1243.73,584.39 1243.62,581.39 1252.88,581.39C1262.03,581.39 1262.41,581.39 1271.29,581.39C1280.81,581.39 1280.49,588.48 1289.70,588.48C1298.90,588.48 1298.79,581.39 1308.11,581.39C1317.19,581.39 1317.22,586.98 1326.51,586.98C1335.63,586.98 1335.81,582.76 1344.92,582.76C1354.22,582.76 1353.93,588.48 1363.33,588.48C1372.33,588.48 1372.53,586.98 1381.73,586.98C1390.93,586.98 1391.23,588.35 1400.14,588.35C1409.64,588.35 1409.05,581.39 1418.55,581.39C1427.46,581.39 1427.74,582.76 1436.95,582.76C1446.14,582.76 1446.17,582.76 1455.36,582.76C1464.58,582.76 1465.00,581.39 1473.77,581.39C1483.41,581.39 1482.64,589.98 1492.17,589.98C1501.04,589.98 1501.27,587.15 1510.58,585.76C1519.68,584.39 1519.83,585.48 1528.99,584.39C1538.24,583.30 1538.15,581.39 1547.40,581.39C1556.55,581.39 1556.58,582.89 1565.80,582.89C1574.99,582.89 1575.12,582.89 1584.21,582.89C1593.53,582.89 1595.34,587.12 1602.62,587.12C1613.74,587.12 1612.42,576.46 1621.02,564.90C1630.83,551.72 1634.87,553.17 1639.43,537.63C1653.27,490.53 1642.39,466.63 1657.84,439.61C1660.80,434.43 1667.71,434.43 1676.24,434.43C1686.12,434.43 1685.29,440.81 1694.65,446.70C1703.70,452.40 1706.38,457.61 1713.06,457.61C1724.78,457.61 1721.01,424.89 1731.47,424.89C1739.42,424.89 1738.69,444.59 1749.87,446.70C1757.10,448.06 1759.08,448.06 1768.28,448.06C1777.48,448.06 1781.00,448.06 1786.69,446.70C1799.41,443.65 1797.14,428.76 1805.09,409.75C1815.54,384.79 1814.62,358.77 1823.50,358.77C1833.03,358.77 1830.87,413.98 1841.91,413.98C1849.28,413.98 1848.70,394.77 1860.32,379.76C1867.11,370.98 1874.15,366.40 1878.72,366.40C1892.56,366.40 1884.25,401.47 1897.13,432.79C1902.66,446.25 1906.35,444.37 1915.54,455.97C1924.76,467.61 1928.11,465.87 1933.94,479.28C1946.52,508.20 1938.12,527.63 1952.35,540.63C1956.53,544.45 1961.46,544.45 1970.76,544.45C1979.86,544.45 1979.97,544.45 1989.16,544.45C1998.38,544.45 2003.91,545.81 2007.57,545.81C2022.32,545.81 2014.01,508.70 2025.98,473.69C2032.42,454.85 2031.77,438.11 2044.38,438.11C2050.18,438.11 2053.60,438.11 2062.79,438.11C2072.01,438.11 2072.56,436.88 2081.20,436.88C2090.97,436.88 2090.87,446.70 2099.61,446.70C2109.27,446.70 2108.81,432.79 2118.01,432.79C2127.22,432.79 2127.22,446.70 2136.42,446.70C2145.62,446.70 2145.29,439.26 2154.83,432.79C2163.70,426.78 2163.32,421.75 2173.23,421.75C2181.73,421.75 2182.53,421.75 2191.64,421.75C2200.94,421.75 2200.75,425.57 2210.05,425.57C2219.15,425.57 2222.04,425.57 2228.45,425.57C2240.44,425.57 2237.66,396.53 2246.86,396.53C2256.07,396.53 2254.27,425.57 2265.27,425.57C2272.68,425.57 2275.30,419.44 2283.68,411.53C2293.71,402.06 2292.24,390.81 2302.08,390.81C2310.64,390.81 2313.83,396.61 2320.49,406.35C2332.24,423.53 2326.19,433.42 2338.90,444.66C2344.60,449.70 2348.63,445.94 2357.30,449.70C2367.03,453.91 2365.87,460.61 2375.71,460.61C2384.27,460.61 2388.26,457.88 2394.12,457.88C2406.66,457.88 2403.92,475.25 2412.53,493.19C2422.33,513.62 2418.14,517.59 2430.93,534.63C2436.55,542.12 2440.08,538.60 2449.34,542.27C2458.48,545.89 2460.27,549.22 2467.75,549.22C2478.67,549.22 2475.57,527.14 2486.15,527.14C2493.98,527.14 2497.61,530.13 2504.56,537.77C2516.02,550.37 2513.70,552.73 2522.97,567.63C2532.11,582.32 2529.45,589.91 2541.37,596.94C2547.85,600.75 2550.61,600.75 2559.78,600.75C2569.01,600.75 2568.91,596.39 2578.19,596.39C2587.32,596.39 2587.34,599.12 2596.60,599.12C2605.75,599.12 2605.81,599.12 2615.00,599.12C2624.22,599.12 2624.38,597.62 2633.41,597.62C2642.79,597.62 2642.61,603.07 2651.82,603.07C2661.02,603.07 2660.89,597.62 2670.22,597.62C2679.30,597.62 2682.64,597.62 2688.63,600.75C2701.05,607.26 2707.04,634.84 2707.04,634.84" fill="none" stroke="#f5d046" stroke-width="3.1" stroke-linejoin="round"/><circle cx="1032.00" cy="578.80" r="2.4" fill="#fada55" stroke="#f5d046" stroke-width="2"/><circle cx="1050.41" cy="582.89" r="2.4" fill="#fada55" stroke="#f5d046" stroke-width="2"/><circle cx="1068.81" cy="582.89" r="2.4" fill="#fada55" stroke="#f5d046" stroke-width="2"/><circle cx="1087.22" cy="585.89" r="2.4" fill="#fada55" stroke="#f5d046" stroke-width="2"/><circle cx="1105.63" cy="584.39" r="2.4" fill="#fada55" stroke="#f5d046" stroke-width="2"/><circle cx="1124.04" cy="581.39" r="2.4" fill="#fada55" stroke="#f5d046" stroke-width="2"/><circle cx="1142.44" cy="585.89" r="2.4" fill="#fada55" stroke="#f5d046" stroke-width="2"/><circle cx="1160.85" cy="584.26" r="2.4" fill="#fada55" stroke="#f5d046" stroke-width="2"/><circle cx="1179.26" cy="584.26" r="2.4" fill="#fada55" stroke="#f5d046" stroke-width="2"/><circle cx="1197.66" cy="584.26" r="2.4" fill="#fada55" stroke="#f5d046" stroke-width="2"/><circle cx="1216.07" cy="582.89" r="2.4" fill="#fada55" stroke="#f5d046" stroke-width="2"/><circle cx="1234.48" cy="584.39" r="2.4" fill="#fada55" stroke="#f5d046" stroke-width="2"/><circle cx="1252.88" cy="581.39" r="2.4" fill="#fada55" stroke="#f5d046" stroke-width="2"/><circle cx="1271.29" cy="581.39" r="2.4" fill="#fada55" stroke="#f5d046" stroke-width="2"/><circle cx="1289.70" cy="588.48" r="2.4" fill="#fada55" stroke="#f5d046" stroke-width="2"/><circle cx="1308.11" cy="581.39" r="2.4" fill="#fada55" stroke="#f5d046" stroke-width="2"/><circle cx="1326.51" cy="586.98" r="2.4" fill="#fada55" stroke="#f5d046" stroke-width="2"/><circle cx="1344.92" cy="582.76" r="2.4" fill="#fada55" stroke="#f5d046" stroke-width="2"/><circle cx="1363.33" cy="588.48" r="2.4" fill="#fada55" stroke="#f5d046" stroke-width="2"/><circle cx="1381.73" cy="586.98" r="2.4" fill="#fada55" stroke="#f5d046" stroke-width="2"/><circle cx="1400.14" cy="588.35" r="2.4" fill="#fada55" stroke="#f5d046" stroke-width="2"/><circle cx="1418.55" cy="581.39" r="2.4" fill="#fada55" stroke="#f5d046" stroke-width="2"/><circle cx="1436.95" cy="582.76" r="2.4" fill="#fada55" stroke="#f5d046" stroke-width="2"/><circle cx="1455.36" cy="582.76" r="2.4" fill="#fada55" stroke="#f5d046" stroke-width="2"/><circle cx="1473.77" cy="581.39" r="2.4" fill="#fada55" stroke="#f5d046" stroke-width="2"/><circle cx="1492.17" cy="589.98" r="2.4" fill="#fada55" stroke="#f5d046" stroke-width="2"/><circle cx="1510.58" cy="585.76" r="2.4" fill="#fada55" stroke="#f5d046" stroke-width="2"/><circle cx="1528.99" cy="584.39" r="2.4" fill="#fada55" stroke="#f5d046" stroke-width="2"/><circle cx="1547.40" cy="581.39" r="2.4" fill="#fada55" stroke="#f5d046" stroke-width="2"/><circle cx="1565.80" cy="582.89" r="2.4" fill="#fada55" stroke="#f5d046" stroke-width="2"/><circle cx="1584.21" cy="582.89" r="2.4" fill="#fada55" stroke="#f5d046" stroke-width="2"/><circle cx="1602.62" cy="587.12" r="2.4" fill="#fada55" stroke="#f5d046" stroke-width="2"/><circle cx="1621.02" cy="564.90" r="2.4" fill="#fada55" stroke="#f5d046" stroke-width="2"/><circle cx="1639.43" cy="537.63" r="2.4" fill="#fada55" stroke="#f5d046" stroke-width="2"/><circle cx="1657.84" cy="439.61" r="2.4" fill="#fada55" stroke="#f5d046" stroke-width="2"/><circle cx="1676.24" cy="434.43" r="2.4" fill="#fada55" stroke="#f5d046" stroke-width="2"/><circle cx="1694.65" cy="446.70" r="2.4" fill="#fada55" stroke="#f5d046" stroke-width="2"/><circle cx="1713.06" cy="457.61" r="2.4" fill="#fada55" stroke="#f5d046" stroke-width="2"/><circle cx="1731.47" cy="424.89" r="2.4" fill="#fada55" stroke="#f5d046" stroke-width="2"/><circle cx="1749.87" cy="446.70" r="2.4" fill="#fada55" stroke="#f5d046" stroke-width="2"/><circle cx="1768.28" cy="448.06" r="2.4" fill="#fada55" stroke="#f5d046" stroke-width="2"/><circle cx="1786.69" cy="446.70" r="2.4" fill="#fada55" stroke="#f5d046" stroke-width="2"/><circle cx="1805.09" cy="409.75" r="2.4" fill="#fada55" stroke="#f5d046" stroke-width="2"/><circle cx="1823.50" cy="358.77" r="2.4" fill="#fada55" stroke="#f5d046" stroke-width="2"/><circle cx="1841.91" cy="413.98" r="2.4" fill="#fada55" stroke="#f5d046" stroke-width="2"/><circle cx="1860.32" cy="379.76" r="2.4" fill="#fada55" stroke="#f5d046" stroke-width="2"/><circle cx="1878.72" cy="366.40" r="2.4" fill="#fada55" stroke="#f5d046" stroke-width="2"/><circle cx="1897.13" cy="432.79" r="2.4" fill="#fada55" stroke="#f5d046" stroke-width="2"/><circle cx="1915.54" cy="455.97" r="2.4" fill="#fada55" stroke="#f5d046" stroke-width="2"/><circle cx="1933.94" cy="479.28" r="2.4" fill="#fada55" stroke="#f5d046" stroke-width="2"/><circle cx="1952.35" cy="540.63" r="2.4" fill="#fada55" stroke="#f5d046" stroke-width="2"/><circle cx="1970.76" cy="544.45" r="2.4" fill="#fada55" stroke="#f5d046" stroke-width="2"/><circle cx="1989.16" cy="544.45" r="2.4" fill="#fada55" stroke="#f5d046" stroke-width="2"/><circle cx="2007.57" cy="545.81" r="2.4" fill="#fada55" stroke="#f5d046" stroke-width="2"/><circle cx="2025.98" cy="473.69" r="2.4" fill="#fada55" stroke="#f5d046" stroke-width="2"/><circle cx="2044.38" cy="438.11" r="2.4" fill="#fada55" stroke="#f5d046" stroke-width="2"/><circle cx="2062.79" cy="438.11" r="2.4" fill="#fada55" stroke="#f5d046" stroke-width="2"/><circle cx="2081.20" cy="436.88" r="2.4" fill="#fada55" stroke="#f5d046" stroke-width="2"/><circle cx="2099.61" cy="446.70" r="2.4" fill="#fada55" stroke="#f5d046" stroke-width="2"/><circle cx="2118.01" cy="432.79" r="2.4" fill="#fada55" stroke="#f5d046" stroke-width="2"/><circle cx="2136.42" cy="446.70" r="2.4" fill="#fada55" stroke="#f5d046" stroke-width="2"/><circle cx="2154.83" cy="432.79" r="2.4" fill="#fada55" stroke="#f5d046" stroke-width="2"/><circle cx="2173.23" cy="421.75" r="2.4" fill="#fada55" stroke="#f5d046" stroke-width="2"/><circle cx="2191.64" cy="421.75" r="2.4" fill="#fada55" stroke="#f5d046" stroke-width="2"/><circle cx="2210.05" cy="425.57" r="2.4" fill="#fada55" stroke="#f5d046" stroke-width="2"/><circle cx="2228.45" cy="425.57" r="2.4" fill="#fada55" stroke="#f5d046" stroke-width="2"/><circle cx="2246.86" cy="396.53" r="2.4" fill="#fada55" stroke="#f5d046" stroke-width="2"/><circle cx="2265.27" cy="425.57" r="2.4" fill="#fada55" stroke="#f5d046" stroke-width="2"/><circle cx="2283.68" cy="411.53" r="2.4" fill="#fada55" stroke="#f5d046" stroke-width="2"/><circle cx="2302.08" cy="390.81" r="2.4" fill="#fada55" stroke="#f5d046" stroke-width="2"/><circle cx="2320.49" cy="406.35" r="2.4" fill="#fada55" stroke="#f5d046" stroke-width="2"/><circle cx="2338.90" cy="444.66" r="2.4" fill="#fada55" stroke="#f5d046" stroke-width="2"/><circle cx="2357.30" cy="449.70" r="2.4" fill="#fada55" stroke="#f5d046" stroke-width="2"/><circle cx="2375.71" cy="460.61" r="2.4" fill="#fada55" stroke="#f5d046" stroke-width="2"/><circle cx="2394.12" cy="457.88" r="2.4" fill="#fada55" stroke="#f5d046" stroke-width="2"/><circle cx="2412.53" cy="493.19" r="2.4" fill="#fada55" stroke="#f5d046" stroke-width="2"/><circle cx="2430.93" cy="534.63" r="2.4" fill="#fada55" stroke="#f5d046" stroke-width="2"/><circle cx="2449.34" cy="542.27" r="2.4" fill="#fada55" stroke="#f5d046" stroke-width="2"/><circle cx="2467.75" cy="549.22" r="2.4" fill="#fada55" stroke="#f5d046" stroke-width="2"/><circle cx="2486.15" cy="527.14" r="2.4" fill="#fada55" stroke="#f5d046" stroke-width="2"/><circle cx="2504.56" cy="537.77" r="2.4" fill="#fada55" stroke="#f5d046" stroke-width="2"/><circle cx="2522.97" cy="567.63" r="2.4" fill="#fada55" stroke="#f5d046" stroke-width="2"/><circle cx="2541.37" cy="596.94" r="2.4" fill="#fada55" stroke="#f5d046" stroke-width="2"/><circle cx="2559.78" cy="600.75" r="2.4" fill="#fada55" stroke="#f5d046" stroke-width="2"/><circle cx="2578.19" cy="596.39" r="2.4" fill="#fada55" stroke="#f5d046" stroke-width="2"/><circle cx="2596.60" cy="599.12" r="2.4" fill="#fada55" stroke="#f5d046" stroke-width="2"/><circle cx="2615.00" cy="599.12" r="2.4" fill="#fada55" stroke="#f5d046" stroke-width="2"/><circle cx="2633.41" cy="597.62" r="2.4" fill="#fada55" stroke="#f5d046" stroke-width="2"/><circle cx="2651.82" cy="603.07" r="2.4" fill="#fada55" stroke="#f5d046" stroke-width="2"/><circle cx="2670.22" cy="597.62" r="2.4" fill="#fada55" stroke="#f5d046" stroke-width="2"/><circle cx="2688.63" cy="600.75" r="2.4" fill="#fada55" stroke="#f5d046" stroke-width="2"/><circle cx="2707.04" cy="634.84" r="2.4" fill="#fada55" stroke="#f5d046" stroke-width="2"/><line x1="1769" y1="746.5" x2="1807" y2="746.5" stroke="#67bdd8" stroke-width="3.2"/><circle cx="1788" cy="746.5" r="9.3" fill="#67bdd8"/><line x1="1866.5" y1="746.5" x2="1904.5" y2="746.5" stroke="#f5d046" stroke-width="3.2"/><circle cx="1885.5" cy="746.5" r="9.3" fill="#f5d046"/></svg>
<div class="t" style="left:1013px;top:252.8px;font-size:18px;line-height:25px;color:#7d8a97;font-weight:400;">kWh</div>
<div class="t" style="right:1759px;text-align:right;top:693.2px;font-size:18.8px;line-height:26px;color:#a4abb3;font-weight:400;">0</div>
<div class="t" style="right:1759px;text-align:right;top:625.035px;font-size:18.8px;line-height:26px;color:#a4abb3;font-weight:400;">0.5</div>
<div class="t" style="right:1759px;text-align:right;top:556.87px;font-size:18.8px;line-height:26px;color:#a4abb3;font-weight:400;">1</div>
<div class="t" style="right:1759px;text-align:right;top:488.705px;font-size:18.8px;line-height:26px;color:#a4abb3;font-weight:400;">1.5</div>
<div class="t" style="right:1759px;text-align:right;top:420.54px;font-size:18.8px;line-height:26px;color:#a4abb3;font-weight:400;">2</div>
<div class="t" style="right:1759px;text-align:right;top:352.375px;font-size:18.8px;line-height:26px;color:#a4abb3;font-weight:400;">2.5</div>
<div class="t" style="right:1759px;text-align:right;top:284.21px;font-size:18.8px;line-height:26px;color:#a4abb3;font-weight:400;">3</div>
<div class="t" style="left:1031.5px;width:200px;margin-left:-100px;text-align:center;top:713.5px;font-size:18.9px;line-height:26px;color:#a4abb3;font-weight:400;">00:00</div>
<div class="t" style="left:1326.01px;width:200px;margin-left:-100px;text-align:center;top:713.5px;font-size:18.9px;line-height:26px;color:#a4abb3;font-weight:400;">04:00</div>
<div class="t" style="left:1620.52px;width:200px;margin-left:-100px;text-align:center;top:713.5px;font-size:18.9px;line-height:26px;color:#a4abb3;font-weight:400;">08:00</div>
<div class="t" style="left:1915.04px;width:200px;margin-left:-100px;text-align:center;top:713.5px;font-size:18.9px;line-height:26px;color:#a4abb3;font-weight:400;">12:00</div>
<div class="t" style="left:2209.55px;width:200px;margin-left:-100px;text-align:center;top:713.5px;font-size:18.9px;line-height:26px;color:#a4abb3;font-weight:400;">16:00</div>
<div class="t" style="left:2504.06px;width:200px;margin-left:-100px;text-align:center;top:713.5px;font-size:18.9px;line-height:26px;color:#a4abb3;font-weight:400;">20:00</div>
<div class="t" style="left:1815px;top:735px;font-size:17px;line-height:24px;color:#a4abb3;font-weight:400;">今日</div>
<div class="t" style="left:1913px;top:735px;font-size:17px;line-height:24px;color:#a4abb3;font-weight:400;">昨日</div>
<svg style="left:0px;top:0px;pointer-events:none;" width="2778" height="1552" viewBox="0 0 2778 1552"><circle cx="649.3" cy="1127.3" r="175" fill="none" stroke="#67bdd8" stroke-width="65"/></svg>
<div class="t" style="left:374px;top:886.5px;font-size:17.5px;line-height:24px;color:#6f7c88;font-weight:400;">总开关(122.53)(kWh)/用电(122.53)(kWh)</div>
<div class="t" style="left:649.3px;width:200px;margin-left:-100px;text-align:center;top:1111.5px;font-size:28px;line-height:39px;color:#94a3b8;font-weight:400;-webkit-text-stroke:0.6px #94a3b8;">100%</div>
<div class="t" style="left:650px;width:200px;margin-left:-100px;text-align:center;top:1151px;font-size:17.4px;line-height:24px;color:#a9afb6;font-weight:400;">总开关</div>
<svg style="left:0px;top:0px;pointer-events:none;" width="2778" height="1552" viewBox="0 0 2778 1552"><line x1="1143" y1="1247" x2="2360" y2="1247" stroke="#35495f" stroke-width="2" stroke-dasharray="6,3"/><line x1="1143" y1="1165" x2="2360" y2="1165" stroke="#35495f" stroke-width="2" stroke-dasharray="6,3"/><line x1="1143" y1="1084" x2="2360" y2="1084" stroke="#35495f" stroke-width="2" stroke-dasharray="6,3"/><line x1="1143" y1="1002" x2="2360" y2="1002" stroke="#35495f" stroke-width="2" stroke-dasharray="6,3"/><line x1="1143" y1="921" x2="2360" y2="921" stroke="#35495f" stroke-width="2" stroke-dasharray="6,3"/><rect x="1143.10" y="1205.90" width="18.90" height="121.10" fill="#67bdd8"/><rect x="1162.00" y="1180.67" width="18.90" height="146.33" fill="#f5d046"/><rect x="1194.31" y="1203.46" width="18.90" height="123.54" fill="#67bdd8"/><rect x="1213.21" y="1182.70" width="18.90" height="144.30" fill="#f5d046"/><rect x="1245.53" y="1205.09" width="18.90" height="121.91" fill="#67bdd8"/><rect x="1264.43" y="1182.70" width="18.90" height="144.30" fill="#f5d046"/><rect x="1296.74" y="1204.68" width="18.90" height="122.32" fill="#67bdd8"/><rect x="1315.64" y="1181.89" width="18.90" height="145.11" fill="#f5d046"/><rect x="1347.95" y="1205.49" width="18.90" height="121.51" fill="#67bdd8"/><rect x="1366.85" y="1185.14" width="18.90" height="141.86" fill="#f5d046"/><rect x="1399.16" y="1204.68" width="18.90" height="122.32" fill="#67bdd8"/><rect x="1418.07" y="1182.70" width="18.90" height="144.30" fill="#f5d046"/><rect x="1450.38" y="1203.87" width="18.90" height="123.14" fill="#67bdd8"/><rect x="1469.28" y="1183.92" width="18.90" height="143.08" fill="#f5d046"/><rect x="1501.59" y="1204.68" width="18.90" height="122.32" fill="#67bdd8"/><rect x="1520.49" y="1182.29" width="18.90" height="144.71" fill="#f5d046"/><rect x="1552.80" y="1061.41" width="18.90" height="265.59" fill="#67bdd8"/><rect x="1571.70" y="1075.66" width="18.90" height="251.34" fill="#f5d046"/><rect x="1604.02" y="970.25" width="18.90" height="356.75" fill="#67bdd8"/><rect x="1622.92" y="1015.02" width="18.90" height="311.98" fill="#f5d046"/><rect x="1655.23" y="1004.03" width="18.90" height="322.97" fill="#67bdd8"/><rect x="1674.13" y="981.24" width="18.90" height="345.76" fill="#f5d046"/><rect x="1706.44" y="990.60" width="18.90" height="336.40" fill="#67bdd8"/><rect x="1725.34" y="960.48" width="18.90" height="366.52" fill="#f5d046"/><rect x="1757.66" y="1090.31" width="18.90" height="236.69" fill="#67bdd8"/><rect x="1776.56" y="1087.87" width="18.90" height="239.13" fill="#f5d046"/><rect x="1808.87" y="1084.21" width="18.90" height="242.79" fill="#67bdd8"/><rect x="1827.77" y="1082.99" width="18.90" height="244.01" fill="#f5d046"/><rect x="1860.08" y="993.04" width="18.90" height="333.96" fill="#67bdd8"/><rect x="1878.98" y="1008.50" width="18.90" height="318.50" fill="#f5d046"/><rect x="1911.30" y="997.92" width="18.90" height="329.08" fill="#67bdd8"/><rect x="1930.20" y="999.55" width="18.90" height="327.45" fill="#f5d046"/><rect x="1962.51" y="988.15" width="18.90" height="338.85" fill="#67bdd8"/><rect x="1981.41" y="983.27" width="18.90" height="343.73" fill="#f5d046"/><rect x="2013.72" y="986.12" width="18.90" height="340.88" fill="#67bdd8"/><rect x="2032.62" y="977.57" width="18.90" height="349.43" fill="#f5d046"/><rect x="2064.93" y="1087.06" width="18.90" height="239.94" fill="#67bdd8"/><rect x="2083.83" y="1040.25" width="18.90" height="286.75" fill="#f5d046"/><rect x="2116.15" y="1121.65" width="18.90" height="205.35" fill="#67bdd8"/><rect x="2135.05" y="1126.94" width="18.90" height="200.06" fill="#f5d046"/><rect x="2167.36" y="1148.51" width="18.90" height="178.49" fill="#67bdd8"/><rect x="2186.26" y="1172.53" width="18.90" height="154.47" fill="#f5d046"/><rect x="2218.57" y="1175.38" width="18.90" height="151.62" fill="#67bdd8"/><rect x="2237.47" y="1199.39" width="18.90" height="127.61" fill="#f5d046"/><rect x="2269.79" y="1212.00" width="18.90" height="115.00" fill="#67bdd8"/><rect x="2288.69" y="1202.24" width="18.90" height="124.76" fill="#f5d046"/><rect x="2339.90" y="1204.68" width="18.90" height="122.32" fill="#f5d046"/><line x1="1142" y1="1328" x2="2360" y2="1328" stroke="#9fa3a8" stroke-width="2"/><line x1="1163" y1="1328" x2="1163" y2="1335" stroke="#9fa3a8" stroke-width="2"/><line x1="1368" y1="1328" x2="1368" y2="1335" stroke="#9fa3a8" stroke-width="2"/><line x1="1573" y1="1328" x2="1573" y2="1335" stroke="#9fa3a8" stroke-width="2"/><line x1="1778" y1="1328" x2="1778" y2="1335" stroke="#9fa3a8" stroke-width="2"/><line x1="1982" y1="1328" x2="1982" y2="1335" stroke="#9fa3a8" stroke-width="2"/><line x1="2187" y1="1328" x2="2187" y2="1335" stroke="#9fa3a8" stroke-width="2"/><rect x="1629.5" y="1358.5" width="37" height="21" rx="5" fill="#67bdd8"/><rect x="1725" y="1358.5" width="37" height="21" rx="5" fill="#f5d046"/><path d="M2566.30,928.20 A78.9,78.9 0 0 1 2584.58,1083.85" fill="none" stroke="#e398a4" stroke-width="27.2"/><path d="M2584.58,1083.85 A78.9,78.9 0 0 1 2496.64,970.06" fill="none" stroke="#8da8f0" stroke-width="27.2"/><path d="M2496.64,970.06 A78.9,78.9 0 0 1 2566.30,928.20" fill="none" stroke="#9bd4c6" stroke-width="27.2"/><path d="M2566.30,1176.40 A78.9,78.9 0 0 1 2599.52,1326.87" fill="none" stroke="#e398a4" stroke-width="27.2"/><path d="M2599.52,1326.87 A78.9,78.9 0 0 1 2489.27,1238.22" fill="none" stroke="#8da8f0" stroke-width="27.2"/><path d="M2489.27,1238.22 A78.9,78.9 0 0 1 2566.30,1176.40" fill="none" stroke="#9bd4c6" stroke-width="27.2"/></svg>
<div class="t" style="left:1124.5px;top:876px;font-size:18px;line-height:25px;color:#7d8a97;font-weight:400;">kWh</div>
<div class="t" style="right:1647px;text-align:right;top:1315.2px;font-size:18.8px;line-height:26px;color:#a4abb3;font-weight:400;">0</div>
<div class="t" style="right:1647px;text-align:right;top:1233.8px;font-size:18.8px;line-height:26px;color:#a4abb3;font-weight:400;">2</div>
<div class="t" style="right:1647px;text-align:right;top:1152.4px;font-size:18.8px;line-height:26px;color:#a4abb3;font-weight:400;">4</div>
<div class="t" style="right:1647px;text-align:right;top:1071px;font-size:18.8px;line-height:26px;color:#a4abb3;font-weight:400;">6</div>
<div class="t" style="right:1647px;text-align:right;top:989.6px;font-size:18.8px;line-height:26px;color:#a4abb3;font-weight:400;">8</div>
<div class="t" style="right:1647px;text-align:right;top:908.2px;font-size:18.8px;line-height:26px;color:#a4abb3;font-weight:400;">10</div>
<div class="t" style="left:1162.5px;width:200px;margin-left:-100px;text-align:center;top:1335px;font-size:18.9px;line-height:26px;color:#a4abb3;font-weight:400;">00:00</div>
<div class="t" style="left:1367.35px;width:200px;margin-left:-100px;text-align:center;top:1335px;font-size:18.9px;line-height:26px;color:#a4abb3;font-weight:400;">04:00</div>
<div class="t" style="left:1572.2px;width:200px;margin-left:-100px;text-align:center;top:1335px;font-size:18.9px;line-height:26px;color:#a4abb3;font-weight:400;">08:00</div>
<div class="t" style="left:1777.06px;width:200px;margin-left:-100px;text-align:center;top:1335px;font-size:18.9px;line-height:26px;color:#a4abb3;font-weight:400;">12:00</div>
<div class="t" style="left:1981.91px;width:200px;margin-left:-100px;text-align:center;top:1335px;font-size:18.9px;line-height:26px;color:#a4abb3;font-weight:400;">16:00</div>
<div class="t" style="left:2186.76px;width:200px;margin-left:-100px;text-align:center;top:1335px;font-size:18.9px;line-height:26px;color:#a4abb3;font-weight:400;">20:00</div>
<div class="t" style="left:1675px;top:1357px;font-size:17px;line-height:24px;color:#a4abb3;font-weight:400;">今天</div>
<div class="t" style="left:1770px;top:1357px;font-size:17px;line-height:24px;color:#a4abb3;font-weight:400;">昨天</div>
<div style="left:986px;top:892px;width:57px;height:48px;background:#3f8884;border-radius:3px;"></div>
<div class="t" style="left:1014.5px;width:200px;margin-left:-100px;text-align:center;top:900.5px;font-size:20.6px;line-height:29px;color:#ffffff;font-weight:400;">日</div>
<div style="left:984.5px;top:955px;width:58px;height:48px;border:1.5px solid #36424f;border-radius:3px;box-sizing:border-box;"></div>
<div class="t" style="left:1013.5px;width:200px;margin-left:-100px;text-align:center;top:963.5px;font-size:20.6px;line-height:29px;color:#ffffff;font-weight:400;">月</div>
<div style="left:984.5px;top:1018px;width:58px;height:48px;border:1.5px solid #36424f;border-radius:3px;box-sizing:border-box;"></div>
<div class="t" style="left:1013.5px;width:200px;margin-left:-100px;text-align:center;top:1026.5px;font-size:20.6px;line-height:29px;color:#ffffff;font-weight:400;">年</div>
<div class="t" style="left:2566px;width:200px;margin-left:-100px;text-align:center;top:980px;font-size:27px;line-height:38px;color:#8494a5;font-weight:400;-webkit-text-stroke:0.4px #8494a5;letter-spacing:0.3px;">122.53</div>
<div class="t" style="left:2566px;width:200px;margin-left:-100px;text-align:center;top:1014px;font-size:18.5px;line-height:26px;color:#a9afb6;font-weight:400;">kWh</div>
<div class="t" style="left:2566px;width:200px;margin-left:-100px;text-align:center;top:1228px;font-size:27px;line-height:38px;color:#8494a5;font-weight:400;-webkit-text-stroke:0.4px #8494a5;letter-spacing:0.3px;">129.81</div>
<div class="t" style="left:2566px;width:200px;margin-left:-100px;text-align:center;top:1262px;font-size:18.5px;line-height:26px;color:#a9afb6;font-weight:400;">kWh</div>
<div class="t" style="left:2693px;top:918px;font-size:17.5px;line-height:24px;color:#6f7c88;font-weight:400;">今天</div>
<div class="t" style="left:2693px;top:1166px;font-size:17.5px;line-height:24px;color:#6f7c88;font-weight:400;">昨天</div>
<div class="t" style="left:2523.5px;width:200px;margin-left:-100px;text-align:center;top:924px;font-size:17px;line-height:24px;color:#3a444e;font-weight:400;">谷</div>
<div class="t" style="left:2649px;width:200px;margin-left:-100px;text-align:center;top:985px;font-size:17px;line-height:24px;color:#3a444e;font-weight:400;">峰</div>
<div class="t" style="left:2500.5px;width:200px;margin-left:-100px;text-align:center;top:1045px;font-size:17px;line-height:24px;color:#3a444e;font-weight:400;">平</div>
<div class="t" style="left:2514px;width:200px;margin-left:-100px;text-align:center;top:1178px;font-size:17px;line-height:24px;color:#3a444e;font-weight:400;">谷</div>
<div class="t" style="left:2648px;width:200px;margin-left:-100px;text-align:center;top:1224px;font-size:17px;line-height:24px;color:#3a444e;font-weight:400;">峰</div>
<div class="t" style="left:2514px;width:200px;margin-left:-100px;text-align:center;top:1307px;font-size:17px;line-height:24px;color:#3a444e;font-weight:400;">平</div>
</body></html>
